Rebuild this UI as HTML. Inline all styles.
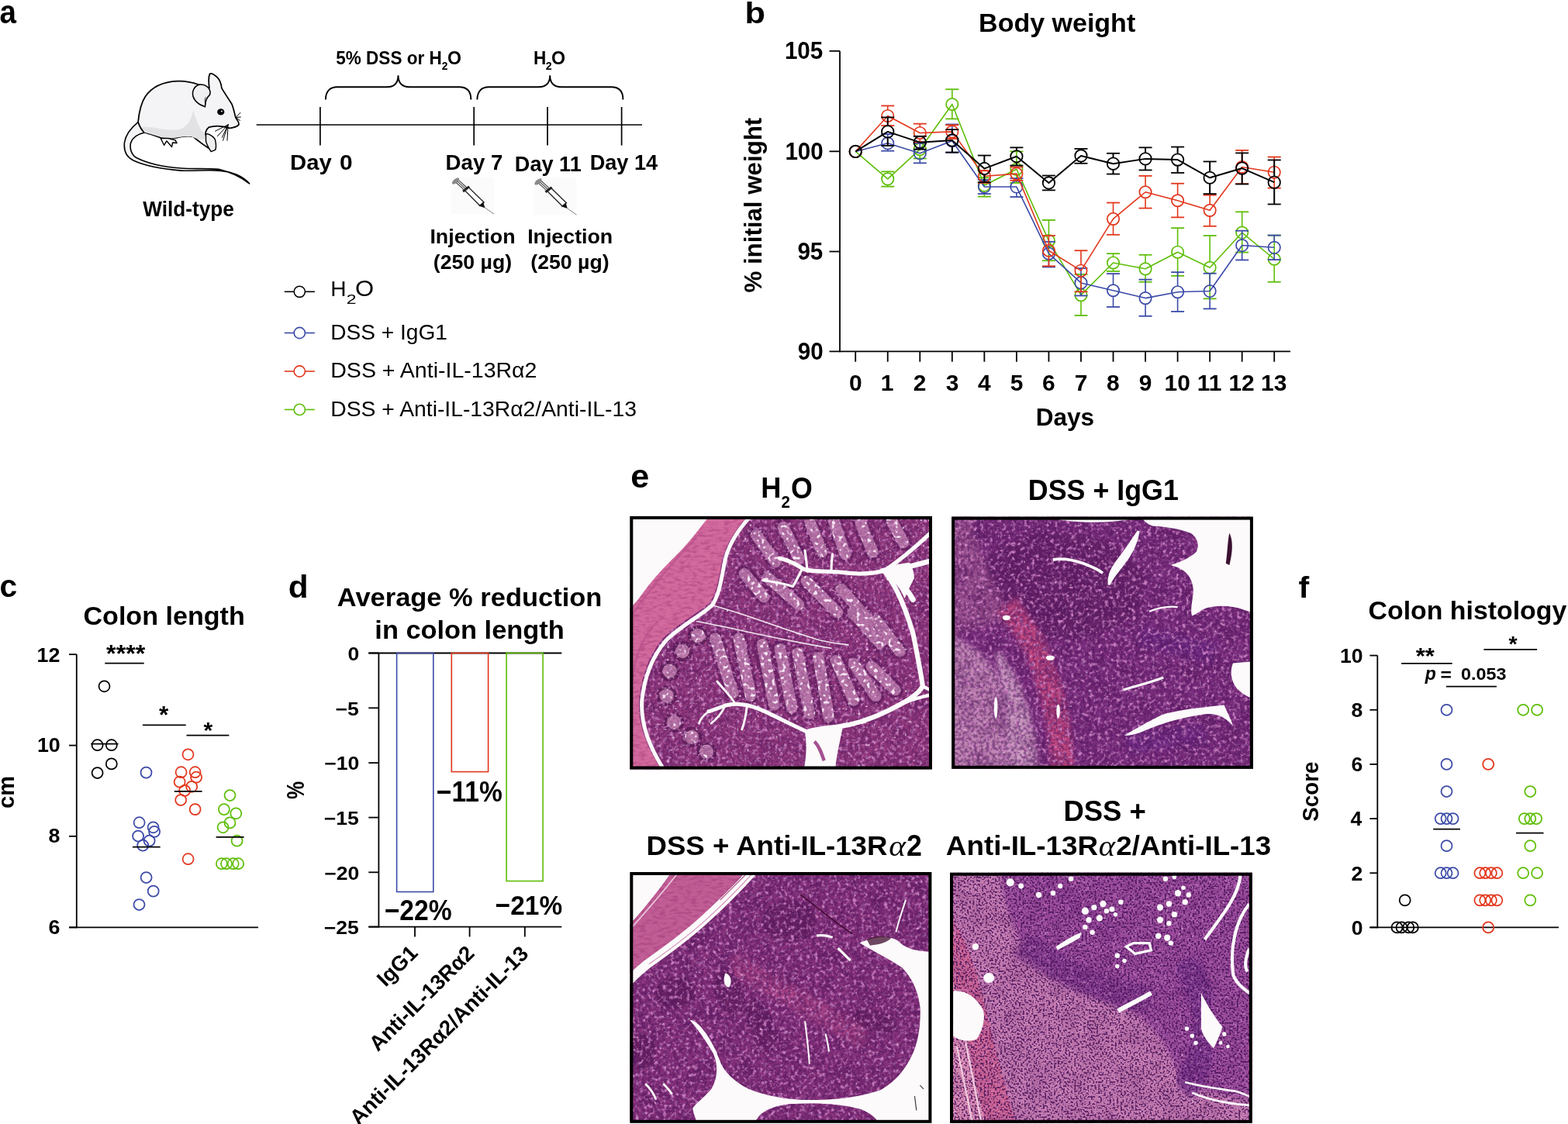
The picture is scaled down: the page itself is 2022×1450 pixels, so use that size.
<!DOCTYPE html>
<html><head><meta charset="utf-8"><title>Figure</title>
<style>
html,body{margin:0;padding:0;background:#fff;}
body{width:2022px;height:1450px;overflow:hidden;}
svg{display:block;}
svg text{font-family:"Liberation Sans",Arial,Helvetica,sans-serif;font-weight:bold;fill:#000;}
</style></head><body>
<svg width="2022" height="1450" viewBox="0 0 2022 1450">
<rect width="2022" height="1450" fill="#fff"/>
<text transform="translate(-0.6 30.34) scale(0.9196 1)" font-size="41.96">a</text>
<line x1="330.7" y1="161" x2="828" y2="161" stroke="#000" stroke-width="1.7" />
<line x1="412.9" y1="138" x2="412.9" y2="187.6" stroke="#000" stroke-width="1.7" />
<line x1="611.2" y1="138" x2="611.2" y2="187.6" stroke="#000" stroke-width="1.7" />
<line x1="706" y1="138" x2="706" y2="187.6" stroke="#000" stroke-width="1.7" />
<line x1="801.6" y1="138" x2="801.6" y2="187.6" stroke="#000" stroke-width="1.7" />
<path d="M 419.9 128.4 C 419.9 118.4 424.9 112.3 434.9 112.3 L 498.5 112.3 C 508.5 112.3 513.5 107.3 513.5 97.3 C 513.5 107.3 518.5 112.3 528.5 112.3 L 592.3 112.3 C 602.3 112.3 607.3 118.4 607.3 128.4" fill="none" stroke="#000" stroke-width="1.9"/>
<path d="M 615.4 128.4 C 615.4 118.4 620.4 112.3 630.4 112.3 L 694.2 112.3 C 704.2 112.3 709.2 107.3 709.2 97.3 C 709.2 107.3 714.2 112.3 724.2 112.3 L 788.4 112.3 C 798.4 112.3 803.4 118.4 803.4 128.4" fill="none" stroke="#000" stroke-width="1.9"/>
<text transform="translate(433.35 82.83) scale(0.9630 1)" font-size="23.37">5% DSS or H</text>
<text transform="translate(569.87 90.1) scale(0.9607 1)" font-size="14.36">2</text>
<text transform="translate(576.98 83.22) scale(0.9432 1)" font-size="24.49">O</text>
<text transform="translate(687.89 83.2) scale(0.9445 1)" font-size="23.89">H</text>
<text transform="translate(703.86 90.1) scale(0.9886 1)" font-size="14.36">2</text>
<text transform="translate(711.07 83.22) scale(0.9489 1)" font-size="24.49">O</text>
<text transform="translate(374.07 219.07) scale(1.0633 1)" font-size="27.55">Day</text>
<text transform="translate(437.96 219.45) scale(1.0496 1)" font-size="28.52">0</text>
<text transform="translate(574.57 219.07) scale(1.0045 1)" font-size="27.55">Day 7</text>
<text transform="translate(663.8 221.43) scale(0.9618 1)" font-size="28.2">Day 11</text>
<text transform="translate(760.7 219.07) scale(0.9851 1)" font-size="27.55">Day 14</text>
<text transform="translate(554.43 314.1) scale(1.0467 1)" font-size="25.6">Injection</text>
<text transform="translate(680.13 314.1) scale(1.0467 1)" font-size="25.6">Injection</text>
<text transform="translate(558.85 346.69) scale(1.0036 1)" font-size="26.54">(250 µg)</text>
<text transform="translate(684.35 346.69) scale(1.0036 1)" font-size="26.54">(250 µg)</text>
<text transform="translate(184.2 279.49) scale(0.9531 1)" font-size="27.49">Wild-type</text>
<line x1="366.8" y1="376.3" x2="379.2" y2="376.3" stroke="#000" stroke-width="1.6" />
<line x1="393.4" y1="376.3" x2="405.9" y2="376.3" stroke="#000" stroke-width="1.6" />
<circle cx="386.3" cy="376.3" r="7.1" fill="none" stroke="#000" stroke-width="1.6"/>
<line x1="366.8" y1="429.5" x2="379.2" y2="429.5" stroke="#3b4aa8" stroke-width="1.6" />
<line x1="393.4" y1="429.5" x2="405.9" y2="429.5" stroke="#3b4aa8" stroke-width="1.6" />
<circle cx="386.3" cy="429.5" r="7.1" fill="none" stroke="#3b4aa8" stroke-width="1.6"/>
<line x1="366.8" y1="479" x2="379.2" y2="479" stroke="#e2361c" stroke-width="1.6" />
<line x1="393.4" y1="479" x2="405.9" y2="479" stroke="#e2361c" stroke-width="1.6" />
<circle cx="386.3" cy="479" r="7.1" fill="none" stroke="#e2361c" stroke-width="1.6"/>
<line x1="366.8" y1="528.4" x2="379.2" y2="528.4" stroke="#5ebe08" stroke-width="1.6" />
<line x1="393.4" y1="528.4" x2="405.9" y2="528.4" stroke="#5ebe08" stroke-width="1.6" />
<circle cx="386.3" cy="528.4" r="7.1" fill="none" stroke="#5ebe08" stroke-width="1.6"/>
<text transform="translate(426.31 382) scale(0.9925 1)" font-size="28.3" style="font-weight:normal">H</text>
<text transform="translate(446.73 391.9) scale(1.3836 1)" font-size="16.5" style="font-weight:normal">2</text>
<text transform="translate(458.05 381.95) scale(1.0758 1)" font-size="28.8" style="font-weight:normal">O</text>
<text transform="translate(426.3 438.05)" font-size="28.09" style="font-weight:normal">DSS + IgG1</text>
<text transform="translate(426.27 487.38) scale(1.0543 1)" font-size="27.07" style="font-weight:normal">DSS + Anti-IL-13Rα2</text>
<text transform="translate(426.29 536.67) scale(1.0357 1)" font-size="27.33" style="font-weight:normal">DSS + Anti-IL-13Rα2/Anti-IL-13</text>
<g transform="translate(150,85) scale(0.11)" stroke="#000" stroke-linejoin="round" stroke-linecap="round">
<path d="M 255 660 C 180 720 110 800 95 900 C 85 1000 120 1070 200 1110 C 330 1170 520 1210 760 1228 C 900 1236 1050 1218 1200 1228 C 1350 1240 1480 1290 1560 1380 C 1480 1320 1360 1250 1200 1212 C 1050 1198 900 1212 760 1200 C 540 1185 360 1140 240 1080 C 170 1040 155 960 170 900 C 190 840 250 800 330 782 Z" fill="#f4f4f6" stroke-width="15"/>
<path d="M 255 660 C 265 560 280 450 340 360 C 420 240 560 185 720 178 C 820 175 900 195 965 220 L 1090 260 C 1082 200 1080 130 1095 95 C 1110 80 1140 95 1180 130 C 1215 165 1230 210 1235 260 C 1270 320 1310 380 1350 440 C 1375 490 1385 560 1400 610 C 1420 640 1445 665 1435 690 C 1420 710 1380 725 1330 730 C 1250 705 1150 700 1085 720 C 1050 745 1040 790 1050 820 C 1080 850 1140 880 1160 960 C 1160 990 1120 1000 1090 970 C 1010 920 960 880 900 830 C 840 815 760 830 700 845 C 640 850 590 850 540 850 C 450 820 380 790 330 780 C 300 760 270 700 255 660 Z" fill="#f4f4f6" stroke-width="16"/>
<path d="M 300 720 C 420 700 520 760 700 750 C 820 740 880 640 900 520 C 930 600 960 700 1000 760 C 1040 800 1050 830 1045 850 C 990 880 930 850 880 830 C 800 820 720 840 650 850 C 560 850 470 820 330 780 Z" fill="#e2e2e4" stroke="none"/>
<path d="M 965 222 C 910 240 885 300 900 360 C 920 420 980 460 1040 480 C 1045 420 1050 380 1095 340 C 1110 300 1090 260 1060 240 C 1030 222 995 215 965 222 Z" fill="#f0f0f2" stroke-width="14"/>
<path d="M 1045 370 C 1035 390 1035 420 1045 450" fill="none" stroke-width="7"/>
<ellipse cx="1225" cy="540" rx="42" ry="38" fill="#000" stroke="none"/>
<circle cx="1235" cy="532" r="9" fill="#fff" stroke="none"/>
<line x1="1310" y1="690" x2="1160" y2="765" stroke-width="9"/>
<line x1="1310" y1="690" x2="1185" y2="825" stroke-width="9"/>
<line x1="1310" y1="690" x2="1250" y2="875" stroke-width="9"/>
<line x1="1310" y1="690" x2="1300" y2="875" stroke-width="9"/>
<line x1="1310" y1="690" x2="1240" y2="840" stroke-width="9"/>
<line x1="1405" y1="600" x2="1455" y2="548" stroke-width="9"/>
<line x1="1405" y1="605" x2="1458" y2="600" stroke-width="9"/>
<line x1="1405" y1="610" x2="1450" y2="640" stroke-width="9"/>
<path d="M 520 850 L 560 930 L 590 880 L 650 950 L 660 900 L 710 905 L 690 870 L 610 850 Z" fill="#fff" stroke-width="13"/>
<path d="M 1050 800 C 1080 790 1150 830 1160 870 C 1170 920 1175 960 1160 985 L 1110 1005 C 1090 970 1060 930 1050 880 Z" fill="#eee" stroke-width="13"/>
</g>
<g transform="translate(575,220) scale(0.09)">
<rect x="80" y="90" width="610" height="535" fill="#fcfbfb"/>
<ellipse cx="140" cy="150" rx="62" ry="30" transform="rotate(-40 140 150)" fill="#8a8a8a"/>
<path d="M 150 175 L 270 285 M 185 140 L 305 250 M 168 158 L 288 268" stroke="#444" stroke-width="12" fill="none"/>
<path d="M 245 300 L 335 230" stroke="#222" stroke-width="34"/>
<path d="M 275 290 L 490 505 L 545 455 L 330 245 Z" fill="#fff" stroke="#222" stroke-width="15"/>
<path d="M 470 505 L 535 450 L 560 535 Z" fill="#111"/>
<path d="M 555 530 L 690 625" stroke="#666" stroke-width="9"/>
</g>
<g transform="translate(681.4,220.9) scale(0.09)">
<rect x="80" y="90" width="610" height="535" fill="#fcfbfb"/>
<ellipse cx="140" cy="150" rx="62" ry="30" transform="rotate(-40 140 150)" fill="#8a8a8a"/>
<path d="M 150 175 L 270 285 M 185 140 L 305 250 M 168 158 L 288 268" stroke="#444" stroke-width="12" fill="none"/>
<path d="M 245 300 L 335 230" stroke="#222" stroke-width="34"/>
<path d="M 275 290 L 490 505 L 545 455 L 330 245 Z" fill="#fff" stroke="#222" stroke-width="15"/>
<path d="M 470 505 L 535 450 L 560 535 Z" fill="#111"/>
<path d="M 555 530 L 690 625" stroke="#666" stroke-width="9"/>
</g>
<text transform="translate(960.4 29.89) scale(1.1147 1)" font-size="38.8">b</text>
<text transform="translate(1262.07 40.78) scale(1.0163 1)" font-size="33.47">Body weight</text>
<line x1="1083" y1="65.8" x2="1083" y2="454.2" stroke="#000" stroke-width="1.8" />
<line x1="1069.5" y1="65.8" x2="1083" y2="65.8" stroke="#000" stroke-width="1.8" />
<line x1="1069.5" y1="195.3" x2="1083" y2="195.3" stroke="#000" stroke-width="1.8" />
<line x1="1069.5" y1="324.5" x2="1083" y2="324.5" stroke="#000" stroke-width="1.8" />
<line x1="1069.5" y1="453.3" x2="1664" y2="453.3" stroke="#000" stroke-width="1.8" />
<line x1="1103.2" y1="453.3" x2="1103.2" y2="466.7" stroke="#000" stroke-width="1.8" />
<line x1="1144.74" y1="453.3" x2="1144.74" y2="466.7" stroke="#000" stroke-width="1.8" />
<line x1="1186.28" y1="453.3" x2="1186.28" y2="466.7" stroke="#000" stroke-width="1.8" />
<line x1="1227.82" y1="453.3" x2="1227.82" y2="466.7" stroke="#000" stroke-width="1.8" />
<line x1="1269.36" y1="453.3" x2="1269.36" y2="466.7" stroke="#000" stroke-width="1.8" />
<line x1="1310.9" y1="453.3" x2="1310.9" y2="466.7" stroke="#000" stroke-width="1.8" />
<line x1="1352.44" y1="453.3" x2="1352.44" y2="466.7" stroke="#000" stroke-width="1.8" />
<line x1="1393.98" y1="453.3" x2="1393.98" y2="466.7" stroke="#000" stroke-width="1.8" />
<line x1="1435.52" y1="453.3" x2="1435.52" y2="466.7" stroke="#000" stroke-width="1.8" />
<line x1="1477.06" y1="453.3" x2="1477.06" y2="466.7" stroke="#000" stroke-width="1.8" />
<line x1="1518.6" y1="453.3" x2="1518.6" y2="466.7" stroke="#000" stroke-width="1.8" />
<line x1="1560.14" y1="453.3" x2="1560.14" y2="466.7" stroke="#000" stroke-width="1.8" />
<line x1="1601.68" y1="453.3" x2="1601.68" y2="466.7" stroke="#000" stroke-width="1.8" />
<line x1="1643.22" y1="453.3" x2="1643.22" y2="466.7" stroke="#000" stroke-width="1.8" />
<text transform="translate(1095.01 504.23) scale(0.9870 1)" font-size="30.33">0</text>
<text transform="translate(1135.85 504.46) scale(0.9870 1)" font-size="30.33">1</text>
<text transform="translate(1177.86 504.46) scale(0.9870 1)" font-size="30.33">2</text>
<text transform="translate(1219.63 504.23) scale(0.9870 1)" font-size="30.33">3</text>
<text transform="translate(1260.94 504.46) scale(0.9870 1)" font-size="30.33">4</text>
<text transform="translate(1302.71 504.23) scale(0.9870 1)" font-size="30.33">5</text>
<text transform="translate(1344.02 504.23) scale(0.9870 1)" font-size="30.33">6</text>
<text transform="translate(1385.79 504.46) scale(0.9870 1)" font-size="30.33">7</text>
<text transform="translate(1427.1 504.23) scale(0.9870 1)" font-size="30.33">8</text>
<text transform="translate(1468.64 504.23) scale(0.9870 1)" font-size="30.33">9</text>
<text transform="translate(1501.62 504.23) scale(0.9870 1)" font-size="30.33">10</text>
<text transform="translate(1543.75 504.46) scale(0.9870 1)" font-size="30.33">11</text>
<text transform="translate(1584.47 504.46) scale(0.9870 1)" font-size="30.33">12</text>
<text transform="translate(1626.01 504.23) scale(0.9870 1)" font-size="30.33">13</text>
<text transform="translate(1011.95 76.37) scale(0.9608 1)" font-size="30.75">105</text>
<text transform="translate(1012.41 205.87) scale(0.9608 1)" font-size="30.75">100</text>
<text transform="translate(1028.38 334.62) scale(0.9608 1)" font-size="30.75">95</text>
<text transform="translate(1028.84 464.17) scale(0.9608 1)" font-size="30.75">90</text>
<text transform="translate(1335.63 548.95) scale(0.9797 1)" font-size="32.22">Days</text>
<text transform="translate(981.8 377.59) rotate(-90) scale(0.9780 1)" font-size="32">% initial weight</text>
<polyline points="1103.2,195.44 1144.74,230.83 1186.28,192.69 1227.82,134.49 1269.36,239.09 1310.9,218.25 1352.44,310.66 1393.98,380.65 1435.52,338.97 1477.06,346.83 1518.6,325.21 1560.14,345.26 1601.68,300.04 1643.22,334.25" fill="none" stroke="#5ebe08" stroke-width="1.6" stroke-linejoin="round"/>
<circle cx="1103.2" cy="195.44" r="7.7" fill="none" stroke="#5ebe08" stroke-width="1.7"/>
<line x1="1144.74" y1="221.39" x2="1144.74" y2="223.13" stroke="#5ebe08" stroke-width="1.6" />
<line x1="1144.74" y1="238.53" x2="1144.74" y2="240.66" stroke="#5ebe08" stroke-width="1.6" />
<line x1="1136.24" y1="221.39" x2="1153.24" y2="221.39" stroke="#5ebe08" stroke-width="1.8" />
<line x1="1136.24" y1="240.66" x2="1153.24" y2="240.66" stroke="#5ebe08" stroke-width="1.8" />
<circle cx="1144.74" cy="230.83" r="7.7" fill="none" stroke="#5ebe08" stroke-width="1.7"/>
<line x1="1186.28" y1="184.82" x2="1186.28" y2="184.99" stroke="#5ebe08" stroke-width="1.6" />
<line x1="1186.28" y1="200.39" x2="1186.28" y2="204.48" stroke="#5ebe08" stroke-width="1.6" />
<line x1="1177.78" y1="184.82" x2="1194.78" y2="184.82" stroke="#5ebe08" stroke-width="1.8" />
<line x1="1177.78" y1="204.48" x2="1194.78" y2="204.48" stroke="#5ebe08" stroke-width="1.8" />
<circle cx="1186.28" cy="192.69" r="7.7" fill="none" stroke="#5ebe08" stroke-width="1.7"/>
<line x1="1227.82" y1="115.22" x2="1227.82" y2="126.79" stroke="#5ebe08" stroke-width="1.6" />
<line x1="1227.82" y1="142.19" x2="1227.82" y2="153.36" stroke="#5ebe08" stroke-width="1.6" />
<line x1="1219.32" y1="115.22" x2="1236.32" y2="115.22" stroke="#5ebe08" stroke-width="1.8" />
<line x1="1219.32" y1="153.36" x2="1236.32" y2="153.36" stroke="#5ebe08" stroke-width="1.8" />
<circle cx="1227.82" cy="134.49" r="7.7" fill="none" stroke="#5ebe08" stroke-width="1.7"/>
<line x1="1269.36" y1="229.26" x2="1269.36" y2="231.39" stroke="#5ebe08" stroke-width="1.6" />
<line x1="1269.36" y1="246.79" x2="1269.36" y2="253.64" stroke="#5ebe08" stroke-width="1.6" />
<line x1="1260.86" y1="229.26" x2="1277.86" y2="229.26" stroke="#5ebe08" stroke-width="1.8" />
<line x1="1260.86" y1="253.64" x2="1277.86" y2="253.64" stroke="#5ebe08" stroke-width="1.8" />
<circle cx="1269.36" cy="239.09" r="7.7" fill="none" stroke="#5ebe08" stroke-width="1.7"/>
<line x1="1310.9" y1="195.44" x2="1310.9" y2="210.55" stroke="#5ebe08" stroke-width="1.6" />
<line x1="1310.9" y1="225.95" x2="1310.9" y2="235.94" stroke="#5ebe08" stroke-width="1.6" />
<line x1="1302.4" y1="195.44" x2="1319.4" y2="195.44" stroke="#5ebe08" stroke-width="1.8" />
<line x1="1302.4" y1="235.94" x2="1319.4" y2="235.94" stroke="#5ebe08" stroke-width="1.8" />
<circle cx="1310.9" cy="218.25" r="7.7" fill="none" stroke="#5ebe08" stroke-width="1.7"/>
<line x1="1352.44" y1="283.92" x2="1352.44" y2="302.96" stroke="#5ebe08" stroke-width="1.6" />
<line x1="1352.44" y1="318.36" x2="1352.44" y2="336.22" stroke="#5ebe08" stroke-width="1.6" />
<line x1="1343.94" y1="283.92" x2="1360.94" y2="283.92" stroke="#5ebe08" stroke-width="1.8" />
<line x1="1343.94" y1="336.22" x2="1360.94" y2="336.22" stroke="#5ebe08" stroke-width="1.8" />
<circle cx="1352.44" cy="310.66" r="7.7" fill="none" stroke="#5ebe08" stroke-width="1.7"/>
<line x1="1393.98" y1="353.91" x2="1393.98" y2="372.95" stroke="#5ebe08" stroke-width="1.6" />
<line x1="1393.98" y1="388.35" x2="1393.98" y2="407" stroke="#5ebe08" stroke-width="1.6" />
<line x1="1385.48" y1="353.91" x2="1402.48" y2="353.91" stroke="#5ebe08" stroke-width="1.8" />
<line x1="1385.48" y1="407" x2="1402.48" y2="407" stroke="#5ebe08" stroke-width="1.8" />
<circle cx="1393.98" cy="380.65" r="7.7" fill="none" stroke="#5ebe08" stroke-width="1.7"/>
<line x1="1435.52" y1="327.17" x2="1435.52" y2="331.27" stroke="#5ebe08" stroke-width="1.6" />
<line x1="1435.52" y1="346.67" x2="1435.52" y2="349.98" stroke="#5ebe08" stroke-width="1.6" />
<line x1="1427.02" y1="327.17" x2="1444.02" y2="327.17" stroke="#5ebe08" stroke-width="1.8" />
<line x1="1427.02" y1="349.98" x2="1444.02" y2="349.98" stroke="#5ebe08" stroke-width="1.8" />
<circle cx="1435.52" cy="338.97" r="7.7" fill="none" stroke="#5ebe08" stroke-width="1.7"/>
<line x1="1477.06" y1="328.75" x2="1477.06" y2="339.13" stroke="#5ebe08" stroke-width="1.6" />
<line x1="1477.06" y1="354.53" x2="1477.06" y2="363.74" stroke="#5ebe08" stroke-width="1.6" />
<line x1="1468.56" y1="328.75" x2="1485.56" y2="328.75" stroke="#5ebe08" stroke-width="1.8" />
<line x1="1468.56" y1="363.74" x2="1485.56" y2="363.74" stroke="#5ebe08" stroke-width="1.8" />
<circle cx="1477.06" cy="346.83" r="7.7" fill="none" stroke="#5ebe08" stroke-width="1.7"/>
<line x1="1518.6" y1="294.14" x2="1518.6" y2="317.51" stroke="#5ebe08" stroke-width="1.6" />
<line x1="1518.6" y1="332.91" x2="1518.6" y2="355.88" stroke="#5ebe08" stroke-width="1.6" />
<line x1="1510.1" y1="294.14" x2="1527.1" y2="294.14" stroke="#5ebe08" stroke-width="1.8" />
<line x1="1510.1" y1="355.88" x2="1527.1" y2="355.88" stroke="#5ebe08" stroke-width="1.8" />
<circle cx="1518.6" cy="325.21" r="7.7" fill="none" stroke="#5ebe08" stroke-width="1.7"/>
<line x1="1560.14" y1="303.97" x2="1560.14" y2="337.56" stroke="#5ebe08" stroke-width="1.6" />
<line x1="1560.14" y1="352.96" x2="1560.14" y2="385.37" stroke="#5ebe08" stroke-width="1.6" />
<line x1="1551.64" y1="303.97" x2="1568.64" y2="303.97" stroke="#5ebe08" stroke-width="1.8" />
<line x1="1551.64" y1="385.37" x2="1568.64" y2="385.37" stroke="#5ebe08" stroke-width="1.8" />
<circle cx="1560.14" cy="345.26" r="7.7" fill="none" stroke="#5ebe08" stroke-width="1.7"/>
<line x1="1601.68" y1="273.3" x2="1601.68" y2="292.34" stroke="#5ebe08" stroke-width="1.6" />
<line x1="1601.68" y1="307.74" x2="1601.68" y2="325.6" stroke="#5ebe08" stroke-width="1.6" />
<line x1="1593.18" y1="273.3" x2="1610.18" y2="273.3" stroke="#5ebe08" stroke-width="1.8" />
<line x1="1593.18" y1="325.6" x2="1610.18" y2="325.6" stroke="#5ebe08" stroke-width="1.8" />
<circle cx="1601.68" cy="300.04" r="7.7" fill="none" stroke="#5ebe08" stroke-width="1.7"/>
<line x1="1643.22" y1="303.58" x2="1643.22" y2="326.55" stroke="#5ebe08" stroke-width="1.6" />
<line x1="1643.22" y1="341.95" x2="1643.22" y2="363.74" stroke="#5ebe08" stroke-width="1.6" />
<line x1="1634.72" y1="303.58" x2="1651.72" y2="303.58" stroke="#5ebe08" stroke-width="1.8" />
<line x1="1634.72" y1="363.74" x2="1651.72" y2="363.74" stroke="#5ebe08" stroke-width="1.8" />
<circle cx="1643.22" cy="334.25" r="7.7" fill="none" stroke="#5ebe08" stroke-width="1.7"/>
<polyline points="1103.2,195.44 1144.74,184.82 1186.28,197.8 1227.82,181.68 1269.36,241.05 1310.9,241.05 1352.44,327.17 1393.98,364.92 1435.52,374.75 1477.06,384.59 1518.6,376.72 1560.14,375.54 1601.68,316.56 1643.22,319.31" fill="none" stroke="#3b4aa8" stroke-width="1.6" stroke-linejoin="round"/>
<circle cx="1103.2" cy="195.44" r="7.7" fill="none" stroke="#3b4aa8" stroke-width="1.7"/>
<line x1="1144.74" y1="173.02" x2="1144.74" y2="177.12" stroke="#3b4aa8" stroke-width="1.6" />
<line x1="1144.74" y1="192.52" x2="1144.74" y2="194.65" stroke="#3b4aa8" stroke-width="1.6" />
<line x1="1136.24" y1="173.02" x2="1153.24" y2="173.02" stroke="#3b4aa8" stroke-width="1.8" />
<line x1="1136.24" y1="194.65" x2="1153.24" y2="194.65" stroke="#3b4aa8" stroke-width="1.8" />
<circle cx="1144.74" cy="184.82" r="7.7" fill="none" stroke="#3b4aa8" stroke-width="1.7"/>
<line x1="1186.28" y1="184.82" x2="1186.28" y2="190.1" stroke="#3b4aa8" stroke-width="1.6" />
<line x1="1186.28" y1="205.5" x2="1186.28" y2="210.38" stroke="#3b4aa8" stroke-width="1.6" />
<line x1="1177.78" y1="184.82" x2="1194.78" y2="184.82" stroke="#3b4aa8" stroke-width="1.8" />
<line x1="1177.78" y1="210.38" x2="1194.78" y2="210.38" stroke="#3b4aa8" stroke-width="1.8" />
<circle cx="1186.28" cy="197.8" r="7.7" fill="none" stroke="#3b4aa8" stroke-width="1.7"/>
<line x1="1227.82" y1="160.44" x2="1227.82" y2="173.98" stroke="#3b4aa8" stroke-width="1.6" />
<line x1="1227.82" y1="189.38" x2="1227.82" y2="196.62" stroke="#3b4aa8" stroke-width="1.6" />
<line x1="1219.32" y1="160.44" x2="1236.32" y2="160.44" stroke="#3b4aa8" stroke-width="1.8" />
<line x1="1219.32" y1="196.62" x2="1236.32" y2="196.62" stroke="#3b4aa8" stroke-width="1.8" />
<circle cx="1227.82" cy="181.68" r="7.7" fill="none" stroke="#3b4aa8" stroke-width="1.7"/>
<line x1="1269.36" y1="232.01" x2="1269.36" y2="233.35" stroke="#3b4aa8" stroke-width="1.6" />
<line x1="1269.36" y1="248.75" x2="1269.36" y2="250.1" stroke="#3b4aa8" stroke-width="1.6" />
<line x1="1260.86" y1="232.01" x2="1277.86" y2="232.01" stroke="#3b4aa8" stroke-width="1.8" />
<line x1="1260.86" y1="250.1" x2="1277.86" y2="250.1" stroke="#3b4aa8" stroke-width="1.8" />
<circle cx="1269.36" cy="241.05" r="7.7" fill="none" stroke="#3b4aa8" stroke-width="1.7"/>
<line x1="1310.9" y1="230.04" x2="1310.9" y2="233.35" stroke="#3b4aa8" stroke-width="1.6" />
<line x1="1310.9" y1="248.75" x2="1310.9" y2="254.03" stroke="#3b4aa8" stroke-width="1.6" />
<line x1="1302.4" y1="230.04" x2="1319.4" y2="230.04" stroke="#3b4aa8" stroke-width="1.8" />
<line x1="1302.4" y1="254.03" x2="1319.4" y2="254.03" stroke="#3b4aa8" stroke-width="1.8" />
<circle cx="1310.9" cy="241.05" r="7.7" fill="none" stroke="#3b4aa8" stroke-width="1.7"/>
<line x1="1352.44" y1="311.84" x2="1352.44" y2="319.47" stroke="#3b4aa8" stroke-width="1.6" />
<line x1="1352.44" y1="334.87" x2="1352.44" y2="344.48" stroke="#3b4aa8" stroke-width="1.6" />
<line x1="1343.94" y1="311.84" x2="1360.94" y2="311.84" stroke="#3b4aa8" stroke-width="1.8" />
<line x1="1343.94" y1="344.48" x2="1360.94" y2="344.48" stroke="#3b4aa8" stroke-width="1.8" />
<circle cx="1352.44" cy="327.17" r="7.7" fill="none" stroke="#3b4aa8" stroke-width="1.7"/>
<line x1="1393.98" y1="346.05" x2="1393.98" y2="357.22" stroke="#3b4aa8" stroke-width="1.6" />
<line x1="1393.98" y1="372.62" x2="1393.98" y2="381.44" stroke="#3b4aa8" stroke-width="1.6" />
<line x1="1385.48" y1="346.05" x2="1402.48" y2="346.05" stroke="#3b4aa8" stroke-width="1.8" />
<line x1="1385.48" y1="381.44" x2="1402.48" y2="381.44" stroke="#3b4aa8" stroke-width="1.8" />
<circle cx="1393.98" cy="364.92" r="7.7" fill="none" stroke="#3b4aa8" stroke-width="1.7"/>
<line x1="1435.52" y1="353.13" x2="1435.52" y2="367.05" stroke="#3b4aa8" stroke-width="1.6" />
<line x1="1435.52" y1="382.45" x2="1435.52" y2="395.99" stroke="#3b4aa8" stroke-width="1.6" />
<line x1="1427.02" y1="353.13" x2="1444.02" y2="353.13" stroke="#3b4aa8" stroke-width="1.8" />
<line x1="1427.02" y1="395.99" x2="1444.02" y2="395.99" stroke="#3b4aa8" stroke-width="1.8" />
<circle cx="1435.52" cy="374.75" r="7.7" fill="none" stroke="#3b4aa8" stroke-width="1.7"/>
<line x1="1477.06" y1="360.6" x2="1477.06" y2="376.89" stroke="#3b4aa8" stroke-width="1.6" />
<line x1="1477.06" y1="392.29" x2="1477.06" y2="407.79" stroke="#3b4aa8" stroke-width="1.6" />
<line x1="1468.56" y1="360.6" x2="1485.56" y2="360.6" stroke="#3b4aa8" stroke-width="1.8" />
<line x1="1468.56" y1="407.79" x2="1485.56" y2="407.79" stroke="#3b4aa8" stroke-width="1.8" />
<circle cx="1477.06" cy="384.59" r="7.7" fill="none" stroke="#3b4aa8" stroke-width="1.7"/>
<line x1="1518.6" y1="351.16" x2="1518.6" y2="369.02" stroke="#3b4aa8" stroke-width="1.6" />
<line x1="1518.6" y1="384.42" x2="1518.6" y2="401.89" stroke="#3b4aa8" stroke-width="1.6" />
<line x1="1510.1" y1="351.16" x2="1527.1" y2="351.16" stroke="#3b4aa8" stroke-width="1.8" />
<line x1="1510.1" y1="401.89" x2="1527.1" y2="401.89" stroke="#3b4aa8" stroke-width="1.8" />
<circle cx="1518.6" cy="376.72" r="7.7" fill="none" stroke="#3b4aa8" stroke-width="1.7"/>
<line x1="1560.14" y1="352.73" x2="1560.14" y2="367.84" stroke="#3b4aa8" stroke-width="1.6" />
<line x1="1560.14" y1="383.24" x2="1560.14" y2="398.35" stroke="#3b4aa8" stroke-width="1.6" />
<line x1="1551.64" y1="352.73" x2="1568.64" y2="352.73" stroke="#3b4aa8" stroke-width="1.8" />
<line x1="1551.64" y1="398.35" x2="1568.64" y2="398.35" stroke="#3b4aa8" stroke-width="1.8" />
<circle cx="1560.14" cy="375.54" r="7.7" fill="none" stroke="#3b4aa8" stroke-width="1.7"/>
<line x1="1601.68" y1="297.68" x2="1601.68" y2="308.86" stroke="#3b4aa8" stroke-width="1.6" />
<line x1="1601.68" y1="324.26" x2="1601.68" y2="335.43" stroke="#3b4aa8" stroke-width="1.6" />
<line x1="1593.18" y1="297.68" x2="1610.18" y2="297.68" stroke="#3b4aa8" stroke-width="1.8" />
<line x1="1593.18" y1="335.43" x2="1610.18" y2="335.43" stroke="#3b4aa8" stroke-width="1.8" />
<circle cx="1601.68" cy="316.56" r="7.7" fill="none" stroke="#3b4aa8" stroke-width="1.7"/>
<line x1="1643.22" y1="303.58" x2="1643.22" y2="311.61" stroke="#3b4aa8" stroke-width="1.6" />
<line x1="1643.22" y1="327.01" x2="1643.22" y2="335.04" stroke="#3b4aa8" stroke-width="1.6" />
<line x1="1634.72" y1="303.58" x2="1651.72" y2="303.58" stroke="#3b4aa8" stroke-width="1.8" />
<line x1="1634.72" y1="335.04" x2="1651.72" y2="335.04" stroke="#3b4aa8" stroke-width="1.8" />
<circle cx="1643.22" cy="319.31" r="7.7" fill="none" stroke="#3b4aa8" stroke-width="1.7"/>
<polyline points="1103.2,195.44 1144.74,149.43 1186.28,171.45 1227.82,169.88 1269.36,227.29 1310.9,224.14 1352.44,323.24 1393.98,349.19 1435.52,282.34 1477.06,247.74 1518.6,258.75 1560.14,271.33 1601.68,215.49 1643.22,222.18" fill="none" stroke="#e2361c" stroke-width="1.6" stroke-linejoin="round"/>
<circle cx="1103.2" cy="195.44" r="7.7" fill="none" stroke="#e2361c" stroke-width="1.7"/>
<line x1="1144.74" y1="136.45" x2="1144.74" y2="141.73" stroke="#e2361c" stroke-width="1.6" />
<line x1="1144.74" y1="157.13" x2="1144.74" y2="162.01" stroke="#e2361c" stroke-width="1.6" />
<line x1="1136.24" y1="136.45" x2="1153.24" y2="136.45" stroke="#e2361c" stroke-width="1.8" />
<line x1="1136.24" y1="162.01" x2="1153.24" y2="162.01" stroke="#e2361c" stroke-width="1.8" />
<circle cx="1144.74" cy="149.43" r="7.7" fill="none" stroke="#e2361c" stroke-width="1.7"/>
<line x1="1186.28" y1="159.65" x2="1186.28" y2="163.75" stroke="#e2361c" stroke-width="1.6" />
<line x1="1186.28" y1="179.15" x2="1186.28" y2="183.25" stroke="#e2361c" stroke-width="1.6" />
<line x1="1177.78" y1="159.65" x2="1194.78" y2="159.65" stroke="#e2361c" stroke-width="1.8" />
<line x1="1177.78" y1="183.25" x2="1194.78" y2="183.25" stroke="#e2361c" stroke-width="1.8" />
<circle cx="1186.28" cy="171.45" r="7.7" fill="none" stroke="#e2361c" stroke-width="1.7"/>
<line x1="1227.82" y1="161.23" x2="1227.82" y2="162.18" stroke="#e2361c" stroke-width="1.6" />
<line x1="1227.82" y1="177.58" x2="1227.82" y2="178.92" stroke="#e2361c" stroke-width="1.6" />
<line x1="1219.32" y1="161.23" x2="1236.32" y2="161.23" stroke="#e2361c" stroke-width="1.8" />
<line x1="1219.32" y1="178.92" x2="1236.32" y2="178.92" stroke="#e2361c" stroke-width="1.8" />
<circle cx="1227.82" cy="169.88" r="7.7" fill="none" stroke="#e2361c" stroke-width="1.7"/>
<line x1="1269.36" y1="234.99" x2="1269.36" y2="235.94" stroke="#e2361c" stroke-width="1.6" />
<line x1="1260.86" y1="220.21" x2="1277.86" y2="220.21" stroke="#e2361c" stroke-width="1.8" />
<line x1="1260.86" y1="235.94" x2="1277.86" y2="235.94" stroke="#e2361c" stroke-width="1.8" />
<circle cx="1269.36" cy="227.29" r="7.7" fill="none" stroke="#e2361c" stroke-width="1.7"/>
<line x1="1310.9" y1="215.49" x2="1310.9" y2="216.44" stroke="#e2361c" stroke-width="1.6" />
<line x1="1310.9" y1="231.84" x2="1310.9" y2="232.8" stroke="#e2361c" stroke-width="1.6" />
<line x1="1302.4" y1="215.49" x2="1319.4" y2="215.49" stroke="#e2361c" stroke-width="1.8" />
<line x1="1302.4" y1="232.8" x2="1319.4" y2="232.8" stroke="#e2361c" stroke-width="1.8" />
<circle cx="1310.9" cy="224.14" r="7.7" fill="none" stroke="#e2361c" stroke-width="1.7"/>
<line x1="1352.44" y1="303.97" x2="1352.44" y2="315.54" stroke="#e2361c" stroke-width="1.6" />
<line x1="1352.44" y1="330.94" x2="1352.44" y2="343.3" stroke="#e2361c" stroke-width="1.6" />
<line x1="1343.94" y1="303.97" x2="1360.94" y2="303.97" stroke="#e2361c" stroke-width="1.8" />
<line x1="1343.94" y1="343.3" x2="1360.94" y2="343.3" stroke="#e2361c" stroke-width="1.8" />
<circle cx="1352.44" cy="323.24" r="7.7" fill="none" stroke="#e2361c" stroke-width="1.7"/>
<line x1="1393.98" y1="323.24" x2="1393.98" y2="341.49" stroke="#e2361c" stroke-width="1.6" />
<line x1="1393.98" y1="356.89" x2="1393.98" y2="376.33" stroke="#e2361c" stroke-width="1.6" />
<line x1="1385.48" y1="323.24" x2="1402.48" y2="323.24" stroke="#e2361c" stroke-width="1.8" />
<line x1="1385.48" y1="376.33" x2="1402.48" y2="376.33" stroke="#e2361c" stroke-width="1.8" />
<circle cx="1393.98" cy="349.19" r="7.7" fill="none" stroke="#e2361c" stroke-width="1.7"/>
<line x1="1435.52" y1="261.5" x2="1435.52" y2="274.64" stroke="#e2361c" stroke-width="1.6" />
<line x1="1435.52" y1="290.04" x2="1435.52" y2="302.79" stroke="#e2361c" stroke-width="1.6" />
<line x1="1427.02" y1="261.5" x2="1444.02" y2="261.5" stroke="#e2361c" stroke-width="1.8" />
<line x1="1427.02" y1="302.79" x2="1444.02" y2="302.79" stroke="#e2361c" stroke-width="1.8" />
<circle cx="1435.52" cy="282.34" r="7.7" fill="none" stroke="#e2361c" stroke-width="1.7"/>
<line x1="1477.06" y1="226.9" x2="1477.06" y2="240.04" stroke="#e2361c" stroke-width="1.6" />
<line x1="1477.06" y1="255.44" x2="1477.06" y2="268.58" stroke="#e2361c" stroke-width="1.6" />
<line x1="1468.56" y1="226.9" x2="1485.56" y2="226.9" stroke="#e2361c" stroke-width="1.8" />
<line x1="1468.56" y1="268.58" x2="1485.56" y2="268.58" stroke="#e2361c" stroke-width="1.8" />
<circle cx="1477.06" cy="247.74" r="7.7" fill="none" stroke="#e2361c" stroke-width="1.7"/>
<line x1="1518.6" y1="236.73" x2="1518.6" y2="251.05" stroke="#e2361c" stroke-width="1.6" />
<line x1="1518.6" y1="266.45" x2="1518.6" y2="280.38" stroke="#e2361c" stroke-width="1.6" />
<line x1="1510.1" y1="236.73" x2="1527.1" y2="236.73" stroke="#e2361c" stroke-width="1.8" />
<line x1="1510.1" y1="280.38" x2="1527.1" y2="280.38" stroke="#e2361c" stroke-width="1.8" />
<circle cx="1518.6" cy="258.75" r="7.7" fill="none" stroke="#e2361c" stroke-width="1.7"/>
<line x1="1560.14" y1="251.67" x2="1560.14" y2="263.63" stroke="#e2361c" stroke-width="1.6" />
<line x1="1560.14" y1="279.03" x2="1560.14" y2="291.78" stroke="#e2361c" stroke-width="1.6" />
<line x1="1551.64" y1="251.67" x2="1568.64" y2="251.67" stroke="#e2361c" stroke-width="1.8" />
<line x1="1551.64" y1="291.78" x2="1568.64" y2="291.78" stroke="#e2361c" stroke-width="1.8" />
<circle cx="1560.14" cy="271.33" r="7.7" fill="none" stroke="#e2361c" stroke-width="1.7"/>
<line x1="1601.68" y1="193.87" x2="1601.68" y2="207.79" stroke="#e2361c" stroke-width="1.6" />
<line x1="1601.68" y1="223.19" x2="1601.68" y2="237.12" stroke="#e2361c" stroke-width="1.6" />
<line x1="1593.18" y1="193.87" x2="1610.18" y2="193.87" stroke="#e2361c" stroke-width="1.8" />
<line x1="1593.18" y1="237.12" x2="1610.18" y2="237.12" stroke="#e2361c" stroke-width="1.8" />
<circle cx="1601.68" cy="215.49" r="7.7" fill="none" stroke="#e2361c" stroke-width="1.7"/>
<line x1="1643.22" y1="202.52" x2="1643.22" y2="214.48" stroke="#e2361c" stroke-width="1.6" />
<line x1="1643.22" y1="229.88" x2="1643.22" y2="242.63" stroke="#e2361c" stroke-width="1.6" />
<line x1="1634.72" y1="202.52" x2="1651.72" y2="202.52" stroke="#e2361c" stroke-width="1.8" />
<line x1="1634.72" y1="242.63" x2="1651.72" y2="242.63" stroke="#e2361c" stroke-width="1.8" />
<circle cx="1643.22" cy="222.18" r="7.7" fill="none" stroke="#e2361c" stroke-width="1.7"/>
<polyline points="1103.2,195.44 1144.74,169.88 1186.28,183.64 1227.82,180.89 1269.36,217.46 1310.9,201.73 1352.44,235.94 1393.98,200.94 1435.52,211.17 1477.06,204.88 1518.6,206.06 1560.14,229.26 1601.68,217.07 1643.22,235.16" fill="none" stroke="#000" stroke-width="2" stroke-linejoin="round"/>
<circle cx="1103.2" cy="195.44" r="7.7" fill="none" stroke="#000" stroke-width="1.8"/>
<line x1="1144.74" y1="151.4" x2="1144.74" y2="162.18" stroke="#000" stroke-width="2" />
<line x1="1144.74" y1="177.58" x2="1144.74" y2="187.97" stroke="#000" stroke-width="2" />
<line x1="1136.24" y1="151.4" x2="1153.24" y2="151.4" stroke="#000" stroke-width="1.8" />
<line x1="1136.24" y1="187.97" x2="1153.24" y2="187.97" stroke="#000" stroke-width="1.8" />
<circle cx="1144.74" cy="169.88" r="7.7" fill="none" stroke="#000" stroke-width="1.8"/>
<line x1="1186.28" y1="175.78" x2="1186.28" y2="175.94" stroke="#000" stroke-width="2" />
<line x1="1186.28" y1="191.34" x2="1186.28" y2="192.69" stroke="#000" stroke-width="2" />
<line x1="1177.78" y1="175.78" x2="1194.78" y2="175.78" stroke="#000" stroke-width="1.8" />
<line x1="1177.78" y1="192.69" x2="1194.78" y2="192.69" stroke="#000" stroke-width="1.8" />
<circle cx="1186.28" cy="183.64" r="7.7" fill="none" stroke="#000" stroke-width="1.8"/>
<line x1="1227.82" y1="167.13" x2="1227.82" y2="173.19" stroke="#000" stroke-width="2" />
<line x1="1227.82" y1="188.59" x2="1227.82" y2="196.62" stroke="#000" stroke-width="2" />
<line x1="1219.32" y1="167.13" x2="1236.32" y2="167.13" stroke="#000" stroke-width="1.8" />
<line x1="1219.32" y1="196.62" x2="1236.32" y2="196.62" stroke="#000" stroke-width="1.8" />
<circle cx="1227.82" cy="180.89" r="7.7" fill="none" stroke="#000" stroke-width="1.8"/>
<line x1="1269.36" y1="200.55" x2="1269.36" y2="209.76" stroke="#000" stroke-width="2" />
<line x1="1269.36" y1="225.16" x2="1269.36" y2="235.16" stroke="#000" stroke-width="2" />
<line x1="1260.86" y1="200.55" x2="1277.86" y2="200.55" stroke="#000" stroke-width="1.8" />
<line x1="1260.86" y1="235.16" x2="1277.86" y2="235.16" stroke="#000" stroke-width="1.8" />
<circle cx="1269.36" cy="217.46" r="7.7" fill="none" stroke="#000" stroke-width="1.8"/>
<line x1="1310.9" y1="190.33" x2="1310.9" y2="194.03" stroke="#000" stroke-width="2" />
<line x1="1310.9" y1="209.43" x2="1310.9" y2="213.53" stroke="#000" stroke-width="2" />
<line x1="1302.4" y1="190.33" x2="1319.4" y2="190.33" stroke="#000" stroke-width="1.8" />
<line x1="1302.4" y1="213.53" x2="1319.4" y2="213.53" stroke="#000" stroke-width="1.8" />
<circle cx="1310.9" cy="201.73" r="7.7" fill="none" stroke="#000" stroke-width="1.8"/>
<line x1="1352.44" y1="226.5" x2="1352.44" y2="228.24" stroke="#000" stroke-width="2" />
<line x1="1352.44" y1="243.64" x2="1352.44" y2="245.38" stroke="#000" stroke-width="2" />
<line x1="1343.94" y1="226.5" x2="1360.94" y2="226.5" stroke="#000" stroke-width="1.8" />
<line x1="1343.94" y1="245.38" x2="1360.94" y2="245.38" stroke="#000" stroke-width="1.8" />
<circle cx="1352.44" cy="235.94" r="7.7" fill="none" stroke="#000" stroke-width="1.8"/>
<line x1="1393.98" y1="191.9" x2="1393.98" y2="193.24" stroke="#000" stroke-width="2" />
<line x1="1393.98" y1="208.64" x2="1393.98" y2="210.77" stroke="#000" stroke-width="2" />
<line x1="1385.48" y1="191.9" x2="1402.48" y2="191.9" stroke="#000" stroke-width="1.8" />
<line x1="1385.48" y1="210.77" x2="1402.48" y2="210.77" stroke="#000" stroke-width="1.8" />
<circle cx="1393.98" cy="200.94" r="7.7" fill="none" stroke="#000" stroke-width="1.8"/>
<line x1="1435.52" y1="197.8" x2="1435.52" y2="203.47" stroke="#000" stroke-width="2" />
<line x1="1435.52" y1="218.87" x2="1435.52" y2="224.54" stroke="#000" stroke-width="2" />
<line x1="1427.02" y1="197.8" x2="1444.02" y2="197.8" stroke="#000" stroke-width="1.8" />
<line x1="1427.02" y1="224.54" x2="1444.02" y2="224.54" stroke="#000" stroke-width="1.8" />
<circle cx="1435.52" cy="211.17" r="7.7" fill="none" stroke="#000" stroke-width="1.8"/>
<line x1="1477.06" y1="190.33" x2="1477.06" y2="197.18" stroke="#000" stroke-width="2" />
<line x1="1477.06" y1="212.58" x2="1477.06" y2="219.43" stroke="#000" stroke-width="2" />
<line x1="1468.56" y1="190.33" x2="1485.56" y2="190.33" stroke="#000" stroke-width="1.8" />
<line x1="1468.56" y1="219.43" x2="1485.56" y2="219.43" stroke="#000" stroke-width="1.8" />
<circle cx="1477.06" cy="204.88" r="7.7" fill="none" stroke="#000" stroke-width="1.8"/>
<line x1="1518.6" y1="189.54" x2="1518.6" y2="198.36" stroke="#000" stroke-width="2" />
<line x1="1518.6" y1="213.76" x2="1518.6" y2="222.97" stroke="#000" stroke-width="2" />
<line x1="1510.1" y1="189.54" x2="1527.1" y2="189.54" stroke="#000" stroke-width="1.8" />
<line x1="1510.1" y1="222.97" x2="1527.1" y2="222.97" stroke="#000" stroke-width="1.8" />
<circle cx="1518.6" cy="206.06" r="7.7" fill="none" stroke="#000" stroke-width="1.8"/>
<line x1="1560.14" y1="208.42" x2="1560.14" y2="221.56" stroke="#000" stroke-width="2" />
<line x1="1560.14" y1="236.96" x2="1560.14" y2="250.1" stroke="#000" stroke-width="2" />
<line x1="1551.64" y1="208.42" x2="1568.64" y2="208.42" stroke="#000" stroke-width="1.8" />
<line x1="1551.64" y1="250.1" x2="1568.64" y2="250.1" stroke="#000" stroke-width="1.8" />
<circle cx="1560.14" cy="229.26" r="7.7" fill="none" stroke="#000" stroke-width="1.8"/>
<line x1="1601.68" y1="197.4" x2="1601.68" y2="209.37" stroke="#000" stroke-width="2" />
<line x1="1601.68" y1="224.77" x2="1601.68" y2="237.51" stroke="#000" stroke-width="2" />
<line x1="1593.18" y1="197.4" x2="1610.18" y2="197.4" stroke="#000" stroke-width="1.8" />
<line x1="1593.18" y1="237.51" x2="1610.18" y2="237.51" stroke="#000" stroke-width="1.8" />
<circle cx="1601.68" cy="217.07" r="7.7" fill="none" stroke="#000" stroke-width="1.8"/>
<line x1="1643.22" y1="206.45" x2="1643.22" y2="227.46" stroke="#000" stroke-width="2" />
<line x1="1643.22" y1="242.86" x2="1643.22" y2="263.47" stroke="#000" stroke-width="2" />
<line x1="1634.72" y1="206.45" x2="1651.72" y2="206.45" stroke="#000" stroke-width="1.8" />
<line x1="1634.72" y1="263.47" x2="1651.72" y2="263.47" stroke="#000" stroke-width="1.8" />
<circle cx="1643.22" cy="235.16" r="7.7" fill="none" stroke="#000" stroke-width="1.8"/>
<text transform="translate(-0.47 770.17) scale(1.0200 1)" font-size="40">c</text>
<text transform="translate(107.43 806.02) scale(1.0387 1)" font-size="32.84">Colon length</text>
<line x1="98.8" y1="844.2" x2="98.8" y2="1197.2" stroke="#000" stroke-width="1.8" />
<line x1="89" y1="844.2" x2="98.8" y2="844.2" stroke="#000" stroke-width="1.8" />
<text transform="translate(47.52 854.25) scale(1.0198 1)" font-size="26.31">12</text>
<line x1="89" y1="961.6" x2="98.8" y2="961.6" stroke="#000" stroke-width="1.8" />
<text transform="translate(47.94 970.04) scale(1.0198 1)" font-size="26.31">10</text>
<line x1="89" y1="1078.8" x2="98.8" y2="1078.8" stroke="#000" stroke-width="1.8" />
<text transform="translate(62.45 1087.24) scale(1.0198 1)" font-size="26.31">8</text>
<line x1="89" y1="1196.4" x2="98.8" y2="1196.4" stroke="#000" stroke-width="1.8" />
<text transform="translate(62.45 1204.84) scale(1.0198 1)" font-size="26.31">6</text>
<line x1="89" y1="1196.4" x2="333" y2="1196.4" stroke="#000" stroke-width="1.8" />
<text transform="translate(18.35 1042.91) rotate(-90) scale(1.0060 1)" font-size="28.8">cm</text>
<circle cx="134.5" cy="885.3" r="7" fill="none" stroke="#000" stroke-width="1.75"/>
<circle cx="125.6" cy="961.2" r="7" fill="none" stroke="#000" stroke-width="1.75"/>
<circle cx="143.8" cy="961.2" r="7" fill="none" stroke="#000" stroke-width="1.75"/>
<circle cx="143.8" cy="985.4" r="7" fill="none" stroke="#000" stroke-width="1.75"/>
<circle cx="125.6" cy="997" r="7" fill="none" stroke="#000" stroke-width="1.75"/>
<circle cx="188.5" cy="996.6" r="7" fill="none" stroke="#3b4aa8" stroke-width="1.75"/>
<circle cx="179.6" cy="1061.2" r="7" fill="none" stroke="#3b4aa8" stroke-width="1.75"/>
<circle cx="197.6" cy="1067.3" r="7" fill="none" stroke="#3b4aa8" stroke-width="1.75"/>
<circle cx="199.1" cy="1072.9" r="7" fill="none" stroke="#3b4aa8" stroke-width="1.75"/>
<circle cx="178.1" cy="1078.5" r="7" fill="none" stroke="#3b4aa8" stroke-width="1.75"/>
<circle cx="192.6" cy="1084.6" r="7" fill="none" stroke="#3b4aa8" stroke-width="1.75"/>
<circle cx="184.2" cy="1090.6" r="7" fill="none" stroke="#3b4aa8" stroke-width="1.75"/>
<circle cx="188.6" cy="1132" r="7" fill="none" stroke="#3b4aa8" stroke-width="1.75"/>
<circle cx="197.7" cy="1149.6" r="7" fill="none" stroke="#3b4aa8" stroke-width="1.75"/>
<circle cx="179.5" cy="1167" r="7" fill="none" stroke="#3b4aa8" stroke-width="1.75"/>
<circle cx="242.5" cy="973.3" r="7" fill="none" stroke="#e2361c" stroke-width="1.75"/>
<circle cx="233.6" cy="996.2" r="7" fill="none" stroke="#e2361c" stroke-width="1.75"/>
<circle cx="251.6" cy="996.2" r="7" fill="none" stroke="#e2361c" stroke-width="1.75"/>
<circle cx="253.1" cy="1002.7" r="7" fill="none" stroke="#e2361c" stroke-width="1.75"/>
<circle cx="231.7" cy="1008.7" r="7" fill="none" stroke="#e2361c" stroke-width="1.75"/>
<circle cx="247.2" cy="1014.8" r="7" fill="none" stroke="#e2361c" stroke-width="1.75"/>
<circle cx="238.2" cy="1019.9" r="7" fill="none" stroke="#e2361c" stroke-width="1.75"/>
<circle cx="233.2" cy="1032" r="7" fill="none" stroke="#e2361c" stroke-width="1.75"/>
<circle cx="251.6" cy="1044.1" r="7" fill="none" stroke="#e2361c" stroke-width="1.75"/>
<circle cx="242.6" cy="1108.2" r="7" fill="none" stroke="#e2361c" stroke-width="1.75"/>
<circle cx="296.5" cy="1026" r="7" fill="none" stroke="#5ebe08" stroke-width="1.75"/>
<circle cx="288.9" cy="1044.1" r="7" fill="none" stroke="#5ebe08" stroke-width="1.75"/>
<circle cx="304.3" cy="1049.3" r="7" fill="none" stroke="#5ebe08" stroke-width="1.75"/>
<circle cx="296.5" cy="1061.4" r="7" fill="none" stroke="#5ebe08" stroke-width="1.75"/>
<circle cx="287.6" cy="1067.3" r="7" fill="none" stroke="#5ebe08" stroke-width="1.75"/>
<circle cx="305.6" cy="1084.7" r="7" fill="none" stroke="#5ebe08" stroke-width="1.75"/>
<circle cx="285.9" cy="1114.2" r="7" fill="none" stroke="#5ebe08" stroke-width="1.75"/>
<circle cx="292" cy="1114.2" r="7" fill="none" stroke="#5ebe08" stroke-width="1.75"/>
<circle cx="300.7" cy="1114.2" r="7" fill="none" stroke="#5ebe08" stroke-width="1.75"/>
<circle cx="307.2" cy="1114.2" r="7" fill="none" stroke="#5ebe08" stroke-width="1.75"/>
<line x1="117.2" y1="959.7" x2="152.6" y2="959.7" stroke="#000" stroke-width="1.8" />
<line x1="170.9" y1="1092.7" x2="206.7" y2="1092.7" stroke="#000" stroke-width="1.8" />
<line x1="224.8" y1="1020.8" x2="260.6" y2="1020.8" stroke="#000" stroke-width="1.8" />
<line x1="278.6" y1="1079.9" x2="314.6" y2="1079.9" stroke="#000" stroke-width="1.8" />
<line x1="135.3" y1="855.7" x2="185.7" y2="855.7" stroke="#000" stroke-width="1.8" />
<text transform="translate(137.1 854.2) scale(1.0509 1)" font-size="30.72">****</text>
<line x1="183.9" y1="935.4" x2="239.7" y2="935.4" stroke="#000" stroke-width="1.8" />
<text transform="translate(205.1 932.78) scale(1.0165 1)" font-size="30.98">*</text>
<line x1="240.5" y1="948.6" x2="295.4" y2="948.6" stroke="#000" stroke-width="1.8" />
<text transform="translate(262.4 951.8) scale(1.0261 1)" font-size="29.44">*</text>
<text transform="translate(371.68 770.96) scale(1.0396 1)" font-size="40.67">d</text>
<text transform="translate(434.76 782.27) scale(1.0433 1)" font-size="33.05">Average % reduction</text>
<text transform="translate(483.35 823.84) scale(1.0505 1)" font-size="32.73">in colon length</text>
<line x1="488.4" y1="842.5" x2="488.4" y2="1196.4" stroke="#000" stroke-width="1.8" />
<line x1="475.3" y1="842.5" x2="724.3" y2="842.5" stroke="#000" stroke-width="1.8" />
<line x1="475.3" y1="1195.6" x2="724.3" y2="1195.6" stroke="#000" stroke-width="1.8" />
<line x1="475.3" y1="842.5" x2="488.4" y2="842.5" stroke="#000" stroke-width="1.8" />
<text transform="translate(448.49 851.83) scale(1.1243 1)" font-size="23.65">0</text>
<line x1="475.3" y1="913.3" x2="488.4" y2="913.3" stroke="#000" stroke-width="1.8" />
<text transform="translate(432.54 922.63) scale(1.1243 1)" font-size="23.65">−5</text>
<line x1="475.3" y1="984.1" x2="488.4" y2="984.1" stroke="#000" stroke-width="1.8" />
<text transform="translate(418.17 993.43) scale(1.1243 1)" font-size="23.65">−10</text>
<line x1="475.3" y1="1054.6" x2="488.4" y2="1054.6" stroke="#000" stroke-width="1.8" />
<text transform="translate(417.75 1063.93) scale(1.1243 1)" font-size="23.65">−15</text>
<line x1="475.3" y1="1125.3" x2="488.4" y2="1125.3" stroke="#000" stroke-width="1.8" />
<text transform="translate(418.17 1134.63) scale(1.1243 1)" font-size="23.65">−20</text>
<line x1="475.3" y1="1195.6" x2="488.4" y2="1195.6" stroke="#000" stroke-width="1.8" />
<text transform="translate(417.75 1204.93) scale(1.1243 1)" font-size="23.65">−25</text>
<line x1="535" y1="1195.6" x2="535" y2="1208.5" stroke="#000" stroke-width="1.8" />
<line x1="605.6" y1="1195.6" x2="605.6" y2="1208.5" stroke="#000" stroke-width="1.8" />
<line x1="676.8" y1="1195.6" x2="676.8" y2="1208.5" stroke="#000" stroke-width="1.8" />
<rect x="511.6" y="842.5" width="47.2" height="308" fill="none" stroke="#3b4aa8" stroke-width="1.6"/>
<rect x="582.3" y="842.5" width="47.3" height="153.1" fill="none" stroke="#e2361c" stroke-width="1.6"/>
<rect x="653.1" y="842.5" width="47" height="294.1" fill="none" stroke="#5ebe08" stroke-width="1.6"/>
<text transform="translate(495.65 1187.03) scale(0.9188 1)" font-size="36.59">−22%</text>
<text transform="translate(562.85 1034.12) scale(0.9069 1)" font-size="37.01">−11%</text>
<text transform="translate(638.86 1179.64) scale(0.9290 1)" font-size="35.9">−21%</text>
<text transform="translate(392.32 1030.91) rotate(-90) scale(0.8364 1)" font-size="31.03">%</text>
<text x="0" y="0" font-size="27.4" font-weight="bold" text-anchor="end" transform="translate(540.2 1231) rotate(-45)">IgG1</text>
<text x="0" y="0" font-size="27.4" font-weight="bold" text-anchor="end" transform="translate(613.2 1231.5) rotate(-45)">Anti-IL-13Rα2</text>
<text x="0" y="0" font-size="27.4" font-weight="bold" text-anchor="end" transform="translate(683 1232) rotate(-45)">Anti-IL-13Rα2/Anti-IL-13</text>
<text transform="translate(813.26 628.94) scale(1.0163 1)" font-size="42.31">e</text>
<text transform="translate(981.24 642.4) scale(0.9681 1)" font-size="37.4">H</text>
<text transform="translate(1007.56 654.6) scale(0.9314 1)" font-size="21.9">2</text>
<text transform="translate(1019.88 642.5) scale(0.9278 1)" font-size="38.54">O</text>
<text transform="translate(1325.86 645.21) scale(0.9569 1)" font-size="37.42">DSS + IgG1</text>
<text transform="translate(833.51 1103.45) scale(1.0402 1)" font-size="35.2">DSS + Anti-IL-13R</text>
<text transform="translate(1146.35 1103.89) scale(1.0722 1)" font-size="38.8" style="font-weight:normal;font-style:italic;font-family:'Liberation Serif'">α</text>
<text transform="translate(1168.88 1103.8) scale(0.9428 1)" font-size="37.97">2</text>
<text transform="translate(1371.42 1059.23) scale(0.9978 1)" font-size="36.59">DSS +</text>
<text transform="translate(1219.82 1103.24) scale(1.0310 1)" font-size="35.73">Anti-IL-13R</text>
<text transform="translate(1416.86 1103.7) scale(1.0533 1)" font-size="38.6" style="font-weight:normal;font-style:italic;font-family:'Liberation Serif'">α</text>
<text transform="translate(1439.35 1103.09) scale(1.0294 1)" font-size="35.66">2/Anti-IL-13</text>
<defs>
<filter id="tdark" x="0" y="0" width="1" height="1" color-interpolation-filters="sRGB"><feTurbulence type="fractalNoise" baseFrequency="0.25" numOctaves="2" seed="4"/><feColorMatrix type="matrix" values="0 0 0 0 0.30  0 0 0 0 0.08  0 0 0 0 0.36  4 0 0 0 -1.6"/></filter>
<filter id="tlight" x="0" y="0" width="1" height="1" color-interpolation-filters="sRGB"><feTurbulence type="fractalNoise" baseFrequency="0.2" numOctaves="2" seed="11"/><feColorMatrix type="matrix" values="0 0 0 0 0.80  0 0 0 0 0.50  0 0 0 0 0.76  0 4 0 0 -2.0"/></filter>
<filter id="twhite" x="0" y="0" width="1" height="1" color-interpolation-filters="sRGB"><feTurbulence type="fractalNoise" baseFrequency="0.3" numOctaves="1" seed="23"/><feColorMatrix type="matrix" values="0 0 0 0 0.98  0 0 0 0 0.92  0 0 0 0 0.97  0 0 6 0 -3.9"/></filter>
<filter id="tdots" x="0" y="0" width="1" height="1" color-interpolation-filters="sRGB"><feTurbulence type="fractalNoise" baseFrequency="0.42" numOctaves="1" seed="31"/><feColorMatrix type="matrix" values="0 0 0 0 0.28  0 0 0 0 0.07  0 0 0 0 0.34  9 0 0 0 -4.5"/></filter>
<filter id="tpink" x="0" y="0" width="1" height="1" color-interpolation-filters="sRGB"><feTurbulence type="fractalNoise" baseFrequency="0.12 0.3" numOctaves="2" seed="5"/><feColorMatrix type="matrix" values="0 0 0 0 0.55  0 0 0 0 0.15  0 0 0 0 0.40  3 0 0 0 -1.3"/></filter>
<filter id="soft" x="-20%" y="-20%" width="140%" height="140%"><feGaussianBlur stdDeviation="14"/></filter>
<filter id="tgob" x="0" y="0" width="1" height="1" color-interpolation-filters="sRGB"><feTurbulence type="fractalNoise" baseFrequency="0.22" numOctaves="1" seed="41"/><feColorMatrix type="matrix" values="0 0 0 0 0.97  0 0 0 0 0.90  0 0 0 0 0.96  0 0 8 0 -4.5"/></filter>
<filter id="tblob" x="0" y="0" width="1" height="1" color-interpolation-filters="sRGB"><feTurbulence type="fractalNoise" baseFrequency="0.04" numOctaves="2" seed="7"/><feColorMatrix type="matrix" values="0 0 0 0 0.32  0 0 0 0 0.08  0 0 0 0 0.34  2.4 0 0 0 -1.0"/></filter>
<clipPath id="hc0"><rect x="812.3" y="665.9" width="389.7" height="326.6"/></clipPath>
<clipPath id="hc1"><rect x="1227.2" y="666.6" width="388.7" height="325.2"/></clipPath>
<clipPath id="hc2"><rect x="812.3" y="1125" width="389.1" height="323.8"/></clipPath>
<clipPath id="hc3"><rect x="1225" y="1125.7" width="389.8" height="323.1"/></clipPath>
</defs>
<g clip-path="url(#hc0)">
<rect x="812.3" y="665.9" width="389.7" height="326.6" fill="#92387c"/>
<g transform="translate(700,600) scale(0.31)">
</g>
<path d="M 922.3 823.7 L 945.1 893.9 M 952.7 823.7 L 967.9 897.7 M 983.1 831.3 L 998.3 909.1 M 1005.9 837 L 1021.1 912.9 M 1028.7 842.7 L 1043.9 920.5 M 1055.3 848.4 L 1068.6 924.3 M 1078.1 852.2 L 1100.9 903.4 M 1100.9 856 L 1129.3 897.7 M 1123.7 859.8 L 1154 890.1 M 1130 800 L 1160 840 M 1100 790 L 1135 830 M 975 690 L 1000 725 M 1010 680 L 1030 720 M 1045 675 L 1060 712 M 1075 672 L 1090 715 M 1110 675 L 1125 712 M 1150 672 L 1165 700 M 990 745 L 1030 780 M 1040 750 L 1080 790 M 1085 760 L 1120 800 M 960 740 L 985 770" fill="none" stroke="#5a1a55" stroke-width="22" stroke-linecap="round" opacity="0.55"/>
<path d="M 922.3 823.7 L 945.1 893.9 M 952.7 823.7 L 967.9 897.7 M 983.1 831.3 L 998.3 909.1 M 1005.9 837 L 1021.1 912.9 M 1028.7 842.7 L 1043.9 920.5 M 1055.3 848.4 L 1068.6 924.3 M 1078.1 852.2 L 1100.9 903.4 M 1100.9 856 L 1129.3 897.7 M 1123.7 859.8 L 1154 890.1 M 1130 800 L 1160 840 M 1100 790 L 1135 830 M 975 690 L 1000 725 M 1010 680 L 1030 720 M 1045 675 L 1060 712 M 1075 672 L 1090 715 M 1110 675 L 1125 712 M 1150 672 L 1165 700 M 990 745 L 1030 780 M 1040 750 L 1080 790 M 1085 760 L 1120 800 M 960 740 L 985 770" fill="none" stroke="#b870a2" stroke-width="15" stroke-linecap="round" opacity="0.85"/>
<circle cx="863.5" cy="865.5" r="11" fill="#b8709e" stroke="#58184f" stroke-width="4" stroke-opacity="0.8"/>
<circle cx="859.7" cy="897.7" r="11" fill="#b8709e" stroke="#58184f" stroke-width="4" stroke-opacity="0.8"/>
<circle cx="869.2" cy="931.9" r="11" fill="#b8709e" stroke="#58184f" stroke-width="4" stroke-opacity="0.8"/>
<circle cx="892" cy="950.9" r="11" fill="#b8709e" stroke="#58184f" stroke-width="4" stroke-opacity="0.8"/>
<circle cx="911" cy="969.9" r="11" fill="#b8709e" stroke="#58184f" stroke-width="4" stroke-opacity="0.8"/>
<circle cx="880" cy="840" r="11" fill="#b8709e" stroke="#58184f" stroke-width="4" stroke-opacity="0.8"/>
<circle cx="900" cy="820" r="11" fill="#b8709e" stroke="#58184f" stroke-width="4" stroke-opacity="0.8"/>
<g transform="translate(700,600) scale(0.31)">
</g>
<rect x="812.3" y="665.9" width="389.7" height="326.6" filter="url(#tblob)" opacity="0.3"/>
<rect x="812.3" y="665.9" width="389.7" height="326.6" filter="url(#tlight)" opacity="1.2"/>
<rect x="812.3" y="665.9" width="389.7" height="326.6" filter="url(#twhite)" opacity="1"/>
<rect x="812.3" y="665.9" width="389.7" height="326.6" filter="url(#tdark)" opacity="0.4"/>
<mask id="cmask1"><path d="M 922.3 823.7 L 945.1 893.9 M 952.7 823.7 L 967.9 897.7 M 983.1 831.3 L 998.3 909.1 M 1005.9 837 L 1021.1 912.9 M 1028.7 842.7 L 1043.9 920.5 M 1055.3 848.4 L 1068.6 924.3 M 1078.1 852.2 L 1100.9 903.4 M 1100.9 856 L 1129.3 897.7 M 1123.7 859.8 L 1154 890.1 M 1130 800 L 1160 840 M 1100 790 L 1135 830 M 975 690 L 1000 725 M 1010 680 L 1030 720 M 1045 675 L 1060 712 M 1075 672 L 1090 715 M 1110 675 L 1125 712 M 1150 672 L 1165 700 M 990 745 L 1030 780 M 1040 750 L 1080 790 M 1085 760 L 1120 800 M 960 740 L 985 770" fill="none" stroke="#fff" stroke-width="14" stroke-linecap="round"/>
<circle cx="863.5" cy="865.5" r="9" fill="#fff"/>
<circle cx="859.7" cy="897.7" r="9" fill="#fff"/>
<circle cx="869.2" cy="931.9" r="9" fill="#fff"/>
<circle cx="892" cy="950.9" r="9" fill="#fff"/>
<circle cx="911" cy="969.9" r="9" fill="#fff"/>
<circle cx="880" cy="840" r="9" fill="#fff"/>
<circle cx="900" cy="820" r="9" fill="#fff"/>
</mask>
<g mask="url(#cmask1)"><rect x="812.3" y="665.9" width="389.7" height="326.6" fill="#c88ab8" opacity="0.45"/><rect x="812.3" y="665.9" width="389.7" height="326.6" filter="url(#tgob)"/></g>
<g transform="translate(700,600) scale(0.31)">
</g>
<clipPath id="tc1"><path transform="translate(700,600) scale(0.31)" d="M 360 215 L 850 215 C 800 270 760 330 745 400 C 730 480 720 540 690 575 C 640 620 560 660 500 720 C 440 790 410 880 400 980 C 395 1080 430 1170 495 1270 L 360 1270 Z"/></clipPath>
<g clip-path="url(#tc1)">
<rect x="812.3" y="665.9" width="389.7" height="326.6" fill="#d36a9e"/>
<rect x="812.3" y="665.9" width="389.7" height="326.6" filter="url(#tpink)" opacity="0.35"/>
</g>
<g transform="translate(700,600) scale(0.31)">
<path d="M 360 640 C 400 580 520 420 640 300 M 372 900 C 380 800 420 700 480 650" fill="none" stroke="#b8508a" stroke-width="8" opacity="0.7"/>
<path d="M 360 215 L 690 215 C 640 280 600 330 560 370 C 520 410 480 450 440 500 C 410 540 390 570 360 600 Z" fill="#fcfafb"/>
<path d="M 862 215 C 812 270 772 330 757 400 C 742 480 732 548 702 585 C 652 630 572 670 512 730 C 452 800 422 885 412 980 C 407 1080 442 1170 505 1270" fill="none" stroke="#fcfafb" stroke-linecap="round" stroke-linejoin="round" stroke-width="16"/>
<path d="M 700 582 C 850 620 1000 685 1150 728 C 1200 740 1240 745 1270 748 M 640 650 C 800 680 1000 730 1200 762" fill="none" stroke="#fcfafb" stroke-linecap="round" stroke-linejoin="round" stroke-width="5" opacity="0.9"/>
<path d="M 1610 285 C 1540 350 1480 400 1420 440 C 1360 455 1300 455 1230 445 C 1160 440 1110 445 1080 430 C 1050 410 1020 395 985 388" fill="none" stroke="#fcfafb" stroke-linecap="round" stroke-linejoin="round" stroke-width="17"/>
<path d="M 1100 440 C 1098 410 1094 380 1090 355 M 1200 442 C 1200 420 1202 395 1205 370 M 1080 430 C 1065 460 1050 490 1040 505 C 1010 495 960 485 915 480" fill="none" stroke="#fcfafb" stroke-linecap="round" stroke-linejoin="round" stroke-width="10"/>
<path d="M 1420 440 C 1470 500 1510 600 1540 700 C 1560 800 1575 880 1580 920 C 1560 960 1500 990 1440 1020 C 1380 1050 1300 1080 1220 1090 C 1170 1095 1130 1100 1100 1110" fill="none" stroke="#fcfafb" stroke-linecap="round" stroke-linejoin="round" stroke-width="20"/>
<path d="M 1420 440 C 1470 440 1530 420 1610 400 M 1440 470 C 1480 480 1520 520 1540 560" fill="none" stroke="#fcfafb" stroke-linecap="round" stroke-linejoin="round" stroke-width="22"/>
<path d="M 1580 920 L 1610 935 M 1500 990 C 1540 975 1570 965 1610 958" fill="none" stroke="#fcfafb" stroke-linecap="round" stroke-linejoin="round" stroke-width="14"/>
<path d="M 1100 1110 C 1030 1080 960 1040 900 1015 C 850 995 800 990 760 1000 C 730 1010 710 1020 690 1025" fill="none" stroke="#fcfafb" stroke-linecap="round" stroke-linejoin="round" stroke-width="16"/>
<path d="M 800 992 C 780 960 750 930 725 900 M 850 1000 C 845 1040 840 1070 828 1100 M 760 1000 C 740 1040 720 1060 700 1075 M 690 1025 C 670 1040 655 1055 650 1075" fill="none" stroke="#fcfafb" stroke-linecap="round" stroke-linejoin="round" stroke-width="9"/>
<path d="M 1090 1110 C 1150 1095 1200 1085 1250 1080 C 1240 1130 1225 1190 1215 1270 L 1085 1270 C 1095 1220 1100 1170 1090 1110 Z" fill="#fcfafb"/>
<path d="M 1250 1080 C 1290 1075 1320 1072 1340 1068" fill="none" stroke="#fcfafb" stroke-linecap="round" stroke-linejoin="round" stroke-width="12"/>
<path d="M 1400 432 C 1450 420 1490 410 1525 405 C 1540 430 1545 450 1545 470 C 1530 500 1515 530 1505 555 C 1485 510 1460 470 1400 432 Z" fill="#fcfafb"/>
<path d="M 1130 1150 C 1150 1170 1160 1200 1170 1230" fill="none" stroke="#a45090" stroke-width="14"/>
</g>
</g>
<rect x="814.3" y="667.9" width="385.7" height="322.6" fill="none" stroke="#000" stroke-width="4"/>
<g clip-path="url(#hc1)">
<rect x="1227.2" y="666.6" width="388.7" height="325.2" fill="#7c2e7e"/>
<g transform="translate(1222,660) scale(0.23)">
<ellipse cx="620" cy="420" rx="480" ry="300" fill="#5a1c5a" opacity="0.55" filter="url(#soft)"/>
<path d="M 0 0 L 130 0 C 160 200 250 400 340 560 C 300 620 200 660 0 700 Z" fill="#a55a95" opacity="0.85" filter="url(#soft)"/>
<path d="M 0 680 C 150 740 250 840 300 950 C 330 1100 330 1300 320 1460 L 0 1460 Z" fill="#c086b2" filter="url(#soft)"/>
<path d="M 290 780 C 380 900 450 1050 500 1300 L 510 1460 L 320 1460 C 330 1300 330 1100 300 950 C 290 900 280 850 260 800 Z" fill="#cfa0c4" filter="url(#soft)"/>
<path d="M 330 520 C 420 640 480 730 510 810 C 555 930 580 1000 595 1070 C 620 1200 640 1300 650 1460" fill="none" stroke="#c0447e" stroke-width="130" filter="url(#soft)"/>
<path d="M 1080 700 C 1200 720 1350 760 1500 800 M 1000 1300 C 1150 1280 1300 1260 1450 1250" fill="none" stroke="#6a2a88" stroke-width="120" opacity="0.6" filter="url(#soft)"/>
</g>
<rect x="1227.2" y="666.6" width="388.7" height="325.2" filter="url(#tblob)" opacity="0.45"/>
<rect x="1227.2" y="666.6" width="388.7" height="325.2" filter="url(#tlight)" opacity="1"/>
<rect x="1227.2" y="666.6" width="388.7" height="325.2" filter="url(#twhite)" opacity="0.6"/>
<rect x="1227.2" y="666.6" width="388.7" height="325.2" filter="url(#tdark)" opacity="0.5"/>
<g transform="translate(1222,660) scale(0.23)">
<path d="M 1090 30 L 1720 30 L 1720 570 C 1680 560 1640 540 1600 535 C 1540 525 1480 530 1440 545 C 1410 560 1390 580 1370 585 C 1355 540 1385 470 1375 420 C 1365 360 1330 320 1250 300 C 1300 285 1360 260 1395 225 C 1415 180 1395 140 1360 120 C 1300 95 1220 85 1150 80 C 1120 70 1100 55 1090 30 Z" fill="#fcfafb"/>
<path d="M 580 30 L 1100 30 C 1000 50 900 60 800 60 C 700 55 620 50 580 30 Z" fill="#fcfafb"/>
<path d="M 1070 110 C 1060 180 1020 250 980 300 C 950 340 920 370 905 410 C 900 370 920 320 950 280 C 990 230 1030 170 1070 110 Z" fill="#fcfafb" stroke="#fcfafb" stroke-width="14"/>
<path d="M 590 270 C 640 260 700 270 760 290 C 800 305 840 320 870 345" fill="none" stroke="#fcfafb" stroke-width="16"/>
<path d="M 1720 840 L 1600 850 C 1580 900 1590 950 1620 990 C 1650 1020 1680 1040 1720 1050 Z" fill="#fcfafb"/>
<path d="M 990 1255 C 1050 1220 1120 1180 1200 1140 C 1300 1110 1420 1100 1550 1085 C 1570 1130 1590 1170 1600 1200 C 1560 1160 1520 1130 1450 1135 C 1350 1150 1250 1170 1150 1210 C 1090 1235 1040 1260 990 1255 Z" fill="#fcfafb"/>
<path d="M 985 1000 C 1050 980 1130 960 1210 930" fill="none" stroke="#fcfafb" stroke-width="14"/>
<path d="M 1130 560 C 1180 540 1240 530 1290 535" fill="none" stroke="#fcfafb" stroke-width="10"/>
<ellipse cx="330" cy="595" rx="22" ry="14" fill="#fcfafb"/>
<ellipse cx="575" cy="820" rx="24" ry="14" fill="#fcfafb"/>
<ellipse cx="620" cy="1120" rx="10" ry="40" fill="#fcfafb"/>
<ellipse cx="270" cy="1100" rx="10" ry="60" fill="#fcfafb"/>
<path d="M 1580 120 C 1600 160 1600 220 1580 300 L 1560 290 C 1570 220 1570 160 1580 120 Z" fill="#3a1030"/>
</g>
</g>
<rect x="1229.2" y="668.6" width="384.7" height="321.2" fill="none" stroke="#000" stroke-width="4"/>
<g clip-path="url(#hc2)">
<rect x="812.3" y="1125" width="389.1" height="323.8" fill="#fcfafb"/>
<clipPath id="tc2"><path transform="translate(800,1115) scale(0.23)" d="M 290 40 L 1740 40 L 1740 490 C 1650 485 1600 470 1570 440 C 1540 410 1480 400 1420 415 C 1380 425 1350 435 1340 440 C 1420 490 1500 525 1580 580 C 1640 640 1670 720 1680 800 C 1685 900 1670 990 1640 1060 C 1600 1150 1540 1220 1460 1265 C 1360 1300 1240 1318 1100 1322 C 950 1325 820 1300 720 1260 C 640 1220 590 1170 565 1120 C 540 1050 500 960 440 900 C 420 880 400 870 390 875 C 430 920 480 990 520 1060 C 550 1130 545 1200 510 1260 C 470 1310 420 1340 405 1370 C 410 1400 420 1420 425 1440 L 40 1440 L 40 350 C 100 290 200 170 290 40 Z M 760 1440 C 780 1390 850 1355 950 1345 C 1100 1335 1250 1345 1350 1375 C 1400 1395 1430 1420 1440 1440 Z"/></clipPath>
<g clip-path="url(#tc2)">
<rect x="812.3" y="1125" width="389.1" height="323.8" fill="#86317a"/>
<g transform="translate(800,1115) scale(0.23)">
<path d="M 620 560 C 800 640 1000 760 1150 850 C 1250 910 1320 950 1380 980" fill="none" stroke="#b24a88" stroke-width="120" opacity="0.75" filter="url(#soft)"/>
<g fill="#5c1a58" opacity="0.55"><ellipse cx="310" cy="720" rx="110" ry="90"/><ellipse cx="610" cy="720" rx="80" ry="130" transform="rotate(-20 610 720)"/><ellipse cx="790" cy="900" rx="70" ry="160" transform="rotate(-20 790 900)"/><ellipse cx="120" cy="1050" rx="80" ry="100"/><ellipse cx="1430" cy="880" rx="130" ry="60" transform="rotate(20 1430 880)"/><ellipse cx="950" cy="320" rx="150" ry="120"/></g>
</g>
<rect x="812.3" y="1125" width="389.1" height="323.8" filter="url(#tblob)" opacity="0.45"/>
<rect x="812.3" y="1125" width="389.1" height="323.8" filter="url(#tlight)" opacity="1"/>
<rect x="812.3" y="1125" width="389.1" height="323.8" filter="url(#twhite)" opacity="0.6"/>
<rect x="812.3" y="1125" width="389.1" height="323.8" filter="url(#tdark)" opacity="0.5"/>
<g transform="translate(800,1115) scale(0.23)">
</g>
<clipPath id="tc3"><path transform="translate(800,1115) scale(0.23)" d="M 290 40 L 700 40 C 610 140 520 230 430 320 C 340 400 240 470 150 540 C 110 570 80 590 40 610 L 40 350 C 100 290 200 170 290 40 Z"/></clipPath>
<g clip-path="url(#tc3)">
<rect x="812.3" y="1125" width="389.1" height="323.8" fill="#c25e96"/>
<rect x="812.3" y="1125" width="389.1" height="323.8" filter="url(#tpink)" opacity="0.35"/>
</g>
<g transform="translate(800,1115) scale(0.23)">
<path d="M 330 40 C 250 140 160 250 40 380" fill="none" stroke="#e8c0d8" stroke-width="8"/>
<path d="M 750 30 C 660 130 560 230 460 320 C 360 410 250 490 150 560 C 100 600 70 630 40 660" fill="none" stroke="#fcfafb" stroke-width="52"/>
<path d="M 760 30 C 670 130 570 230 470 320 C 370 410 260 490 160 560" fill="none" stroke="#d490b8" stroke-width="5"/>
<path d="M 700 60 C 640 120 600 160 560 200" fill="none" stroke="#c06090" stroke-width="6"/>
<path d="M 590 610 C 620 620 630 660 610 690 C 585 690 570 650 590 610 Z" fill="#fcfafb"/>
<path d="M 1035 880 C 1045 960 1055 1040 1060 1120 M 1150 950 C 1160 990 1165 1020 1170 1050 M 400 880 C 450 920 500 990 540 1060" fill="none" stroke="#fcfafb" stroke-width="9"/>
<path d="M 1600 200 C 1580 260 1560 320 1545 380" fill="none" stroke="#fcfafb" stroke-width="9"/>
<path d="M 1100 400 C 1130 395 1160 400 1190 410 M 1220 470 C 1250 500 1270 520 1290 540" fill="none" stroke="#fcfafb" stroke-width="14"/>
<path d="M 1010 170 C 1100 240 1200 320 1300 390" fill="none" stroke="#3a0a2a" stroke-width="6"/>
<path d="M 140 1230 C 170 1260 190 1290 200 1320 M 240 1230 C 260 1250 280 1270 290 1290" fill="none" stroke="#fcfafb" stroke-width="12"/>
</g>
</g>
<g transform="translate(800,1115) scale(0.23)">
<path d="M 1380 420 C 1420 400 1470 400 1520 410 C 1500 440 1450 450 1400 455 Z" fill="#4a1a3a" opacity="0.8"/>
<path d="M 1650 1300 L 1660 1380 M 1680 1240 L 1700 1260" stroke="#333" stroke-width="5" fill="none"/>
</g>
</g>
<rect x="814.3" y="1127" width="385.1" height="319.8" fill="none" stroke="#000" stroke-width="4"/>
<g clip-path="url(#hc3)">
<rect x="1225" y="1125.7" width="389.8" height="323.1" fill="#c47bb0"/>
<g transform="translate(1220,1120) scale(0.23)">
<path d="M 300 0 L 1720 0 L 1720 1300 C 1600 1280 1450 1260 1320 1200 C 1250 1000 1150 850 1000 780 C 850 720 650 650 500 520 C 400 420 330 250 300 0 Z" fill="#9a4c9c" filter="url(#soft)"/>
<path d="M 420 420 C 550 520 700 600 850 660 C 950 700 1050 730 1150 740" fill="none" stroke="#7a3488" stroke-width="150" opacity="0.8" filter="url(#soft)"/>
<path d="M 1330 520 C 1420 650 1480 800 1450 1000 C 1430 1100 1380 1180 1320 1240" fill="none" stroke="#74308a" stroke-width="150" opacity="0.8" filter="url(#soft)"/>
<path d="M 560 60 C 700 180 850 300 950 380" fill="none" stroke="#8a3e92" stroke-width="90" opacity="0.7" filter="url(#soft)"/>
<path d="M 0 240 C 80 330 150 500 200 700 C 250 900 310 1150 400 1460 L 0 1460 Z" fill="#cf6596"/>
<path d="M 0 520 C 50 650 90 800 120 950 C 150 1150 190 1300 230 1460 L 0 1460 Z" fill="#dc8db5"/>
</g>
<rect x="1225" y="1125.7" width="389.8" height="323.1" filter="url(#tblob)" opacity="0.2"/>
<rect x="1225" y="1125.7" width="389.8" height="323.1" filter="url(#tlight)" opacity="0.5"/>
<rect x="1225" y="1125.7" width="389.8" height="323.1" filter="url(#twhite)" opacity="0.45"/>
<rect x="1225" y="1125.7" width="389.8" height="323.1" filter="url(#tdots)" opacity="0.8"/>
<g transform="translate(1220,1120) scale(0.23)">
<circle cx="360" cy="80" r="22" fill="#fcfafb"/>
<circle cx="420" cy="100" r="15" fill="#fcfafb"/>
<circle cx="520" cy="150" r="16" fill="#fcfafb"/>
<circle cx="600" cy="140" r="14" fill="#fcfafb"/>
<circle cx="640" cy="100" r="14" fill="#fcfafb"/>
<circle cx="700" cy="60" r="14" fill="#fcfafb"/>
<circle cx="780" cy="240" r="20" fill="#fcfafb"/>
<circle cx="830" cy="220" r="16" fill="#fcfafb"/>
<circle cx="880" cy="200" r="18" fill="#fcfafb"/>
<circle cx="930" cy="230" r="15" fill="#fcfafb"/>
<circle cx="980" cy="190" r="14" fill="#fcfafb"/>
<circle cx="800" cy="290" r="16" fill="#fcfafb"/>
<circle cx="860" cy="280" r="18" fill="#fcfafb"/>
<circle cx="1200" cy="220" r="18" fill="#fcfafb"/>
<circle cx="1250" cy="200" r="16" fill="#fcfafb"/>
<circle cx="1300" cy="140" r="18" fill="#fcfafb"/>
<circle cx="1340" cy="190" r="16" fill="#fcfafb"/>
<circle cx="1280" cy="260" r="16" fill="#fcfafb"/>
<circle cx="1200" cy="290" r="18" fill="#fcfafb"/>
<circle cx="1250" cy="310" r="14" fill="#fcfafb"/>
<circle cx="1190" cy="380" r="16" fill="#fcfafb"/>
<circle cx="1240" cy="390" r="18" fill="#fcfafb"/>
<circle cx="1260" cy="420" r="14" fill="#fcfafb"/>
<circle cx="1230" cy="60" r="14" fill="#fcfafb"/>
<circle cx="1280" cy="50" r="12" fill="#fcfafb"/>
<circle cx="1360" cy="150" r="14" fill="#fcfafb"/>
<circle cx="1330" cy="110" r="12" fill="#fcfafb"/>
<circle cx="780" cy="330" r="14" fill="#fcfafb"/>
<circle cx="820" cy="360" r="14" fill="#fcfafb"/>
<circle cx="960" cy="490" r="14" fill="#fcfafb"/>
<circle cx="1000" cy="520" r="12" fill="#fcfafb"/>
<circle cx="960" cy="550" r="12" fill="#fcfafb"/>
<circle cx="900" cy="240" r="14" fill="#fcfafb"/>
<circle cx="950" cy="260" r="12" fill="#fcfafb"/>
<circle cx="1350" cy="900" r="12" fill="#fcfafb"/>
<circle cx="1380" cy="940" r="12" fill="#fcfafb"/>
<circle cx="1400" cy="980" r="12" fill="#fcfafb"/>
<circle cx="1560" cy="930" r="12" fill="#fcfafb"/>
<circle cx="1540" cy="980" r="10" fill="#fcfafb"/>
<circle cx="1580" cy="1000" r="10" fill="#fcfafb"/>
<path d="M 615 440 C 650 420 700 380 760 360 L 750 390 C 700 420 660 440 625 460 Z" fill="#fcfafb"/>
<path d="M 1010 440 L 1050 420 L 1140 420 L 1150 460 L 1060 480 Z" fill="none" stroke="#fcfafb" stroke-width="14"/>
<path d="M 965 800 C 1020 770 1080 740 1150 700" fill="none" stroke="#fcfafb" stroke-width="26"/>
<path d="M 1430 700 C 1460 760 1500 830 1550 890 C 1530 950 1510 990 1500 1010 C 1470 980 1440 940 1430 900 Z" fill="#fcfafb"/>
<path d="M 1650 40 C 1640 150 1560 250 1450 400 M 1700 200 C 1620 300 1590 450 1610 600 C 1630 650 1680 690 1720 710 M 1700 450 C 1680 500 1670 550 1690 580" fill="none" stroke="#fcfafb" stroke-width="18"/>
<path d="M 1340 1200 C 1450 1230 1550 1240 1620 1250 C 1660 1260 1700 1280 1720 1290 M 1380 1260 C 1450 1290 1550 1320 1700 1330" fill="none" stroke="#fcfafb" stroke-width="12"/>
<path d="M 40 690 C 100 680 170 720 210 800 C 220 860 200 920 170 960 C 120 980 60 960 40 940 Z" fill="#fcfafb"/>
<ellipse cx="240" cy="615" rx="30" ry="28" fill="#fcfafb"/>
<ellipse cx="165" cy="440" rx="18" ry="18" fill="#fcfafb"/>
<path d="M 60 1000 C 90 1150 120 1300 150 1440 M 110 980 C 140 1120 170 1280 200 1440" fill="none" stroke="#f0c8dc" stroke-width="10"/>
</g>
</g>
<rect x="1227" y="1127.7" width="385.8" height="319.1" fill="none" stroke="#000" stroke-width="4"/>
<text transform="translate(1674.56 770.6) scale(1.0491 1)" font-size="39.22">f</text>
<text transform="translate(1764.54 798.59) scale(1.0408 1)" font-size="32.52">Colon histology</text>
<line x1="1776.3" y1="845.4" x2="1776.3" y2="1197.2" stroke="#000" stroke-width="1.8" />
<line x1="1766.4" y1="845.6" x2="1776.3" y2="845.6" stroke="#000" stroke-width="1.8" />
<text transform="translate(1728.04 854.7) scale(1.0373 1)" font-size="25.6">10</text>
<line x1="1766.4" y1="915.76" x2="1776.3" y2="915.76" stroke="#000" stroke-width="1.8" />
<text transform="translate(1742.39 924.86) scale(1.0373 1)" font-size="25.6">8</text>
<line x1="1766.4" y1="985.92" x2="1776.3" y2="985.92" stroke="#000" stroke-width="1.8" />
<text transform="translate(1742.39 995.02) scale(1.0373 1)" font-size="25.6">6</text>
<line x1="1766.4" y1="1056.08" x2="1776.3" y2="1056.08" stroke="#000" stroke-width="1.8" />
<text transform="translate(1741.56 1065.38) scale(1.0373 1)" font-size="25.6">4</text>
<line x1="1766.4" y1="1126.24" x2="1776.3" y2="1126.24" stroke="#000" stroke-width="1.8" />
<text transform="translate(1742.39 1135.54) scale(1.0373 1)" font-size="25.6">2</text>
<line x1="1766.4" y1="1196.4" x2="1776.3" y2="1196.4" stroke="#000" stroke-width="1.8" />
<text transform="translate(1742.81 1205.5) scale(1.0373 1)" font-size="25.6">0</text>
<line x1="1766.4" y1="1196.4" x2="2010" y2="1196.4" stroke="#000" stroke-width="1.8" />
<text transform="translate(1699.65 1059.63) rotate(-90) scale(0.9531 1)" font-size="29.08">Score</text>
<circle cx="1801.5" cy="1196.4" r="7" fill="none" stroke="#000" stroke-width="1.75"/>
<circle cx="1807.5" cy="1196.4" r="7" fill="none" stroke="#000" stroke-width="1.75"/>
<circle cx="1816.3" cy="1196.4" r="7" fill="none" stroke="#000" stroke-width="1.75"/>
<circle cx="1821.8" cy="1196.4" r="7" fill="none" stroke="#000" stroke-width="1.75"/>
<circle cx="1811.7" cy="1161.32" r="7" fill="none" stroke="#000" stroke-width="1.75"/>
<circle cx="1865.5" cy="915.76" r="7" fill="none" stroke="#3b4aa8" stroke-width="1.75"/>
<circle cx="1865.5" cy="985.92" r="7" fill="none" stroke="#3b4aa8" stroke-width="1.75"/>
<circle cx="1865.5" cy="1021" r="7" fill="none" stroke="#3b4aa8" stroke-width="1.75"/>
<circle cx="1857.7" cy="1056.08" r="7" fill="none" stroke="#3b4aa8" stroke-width="1.75"/>
<circle cx="1865.5" cy="1056.08" r="7" fill="none" stroke="#3b4aa8" stroke-width="1.75"/>
<circle cx="1873.6" cy="1056.08" r="7" fill="none" stroke="#3b4aa8" stroke-width="1.75"/>
<circle cx="1865.5" cy="1091.16" r="7" fill="none" stroke="#3b4aa8" stroke-width="1.75"/>
<circle cx="1857.7" cy="1126.24" r="7" fill="none" stroke="#3b4aa8" stroke-width="1.75"/>
<circle cx="1865.5" cy="1126.24" r="7" fill="none" stroke="#3b4aa8" stroke-width="1.75"/>
<circle cx="1873.6" cy="1126.24" r="7" fill="none" stroke="#3b4aa8" stroke-width="1.75"/>
<circle cx="1919.2" cy="985.92" r="7" fill="none" stroke="#e2361c" stroke-width="1.75"/>
<circle cx="1908.4" cy="1126.24" r="7" fill="none" stroke="#e2361c" stroke-width="1.75"/>
<circle cx="1915.2" cy="1126.24" r="7" fill="none" stroke="#e2361c" stroke-width="1.75"/>
<circle cx="1922.9" cy="1126.24" r="7" fill="none" stroke="#e2361c" stroke-width="1.75"/>
<circle cx="1930.4" cy="1126.24" r="7" fill="none" stroke="#e2361c" stroke-width="1.75"/>
<circle cx="1908.4" cy="1161.32" r="7" fill="none" stroke="#e2361c" stroke-width="1.75"/>
<circle cx="1915.2" cy="1161.32" r="7" fill="none" stroke="#e2361c" stroke-width="1.75"/>
<circle cx="1922.9" cy="1161.32" r="7" fill="none" stroke="#e2361c" stroke-width="1.75"/>
<circle cx="1930.4" cy="1161.32" r="7" fill="none" stroke="#e2361c" stroke-width="1.75"/>
<circle cx="1919.2" cy="1196.4" r="7" fill="none" stroke="#e2361c" stroke-width="1.75"/>
<circle cx="1964.2" cy="915.76" r="7" fill="none" stroke="#5ebe08" stroke-width="1.75"/>
<circle cx="1982.1" cy="915.76" r="7" fill="none" stroke="#5ebe08" stroke-width="1.75"/>
<circle cx="1973.3" cy="1021" r="7" fill="none" stroke="#5ebe08" stroke-width="1.75"/>
<circle cx="1965.8" cy="1056.08" r="7" fill="none" stroke="#5ebe08" stroke-width="1.75"/>
<circle cx="1973.3" cy="1056.08" r="7" fill="none" stroke="#5ebe08" stroke-width="1.75"/>
<circle cx="1981.1" cy="1056.08" r="7" fill="none" stroke="#5ebe08" stroke-width="1.75"/>
<circle cx="1973.3" cy="1091.16" r="7" fill="none" stroke="#5ebe08" stroke-width="1.75"/>
<circle cx="1964.2" cy="1126.24" r="7" fill="none" stroke="#5ebe08" stroke-width="1.75"/>
<circle cx="1982.1" cy="1126.24" r="7" fill="none" stroke="#5ebe08" stroke-width="1.75"/>
<circle cx="1973.3" cy="1161.32" r="7" fill="none" stroke="#5ebe08" stroke-width="1.75"/>
<line x1="1848.2" y1="1069.6" x2="1883" y2="1069.6" stroke="#000" stroke-width="1.8" />
<line x1="1955" y1="1074.7" x2="1990.5" y2="1074.7" stroke="#000" stroke-width="1.8" />
<line x1="1807.1" y1="855.8" x2="1872.7" y2="855.8" stroke="#000" stroke-width="1.8" />
<text transform="translate(1825.7 855.5) scale(1.0585 1)" font-size="29.44">**</text>
<line x1="1913.4" y1="837.8" x2="1982.1" y2="837.8" stroke="#000" stroke-width="1.8" />
<text transform="translate(1945.5 839.96) scale(1.0467 1)" font-size="27.39">*</text>
<line x1="1864.9" y1="885.6" x2="1929.9" y2="885.6" stroke="#000" stroke-width="1.8" />
<text transform="translate(1837.72 876.56) scale(0.9433 1)" font-size="24.42" style="font-style:italic">p</text>
<text transform="translate(1857.43 877.56) scale(1.1319 1)" font-size="21.76">=</text>
<text transform="translate(1883.97 876.74) scale(1.0230 1)" font-size="22.82">0.053</text>
</svg>
</body></html>
